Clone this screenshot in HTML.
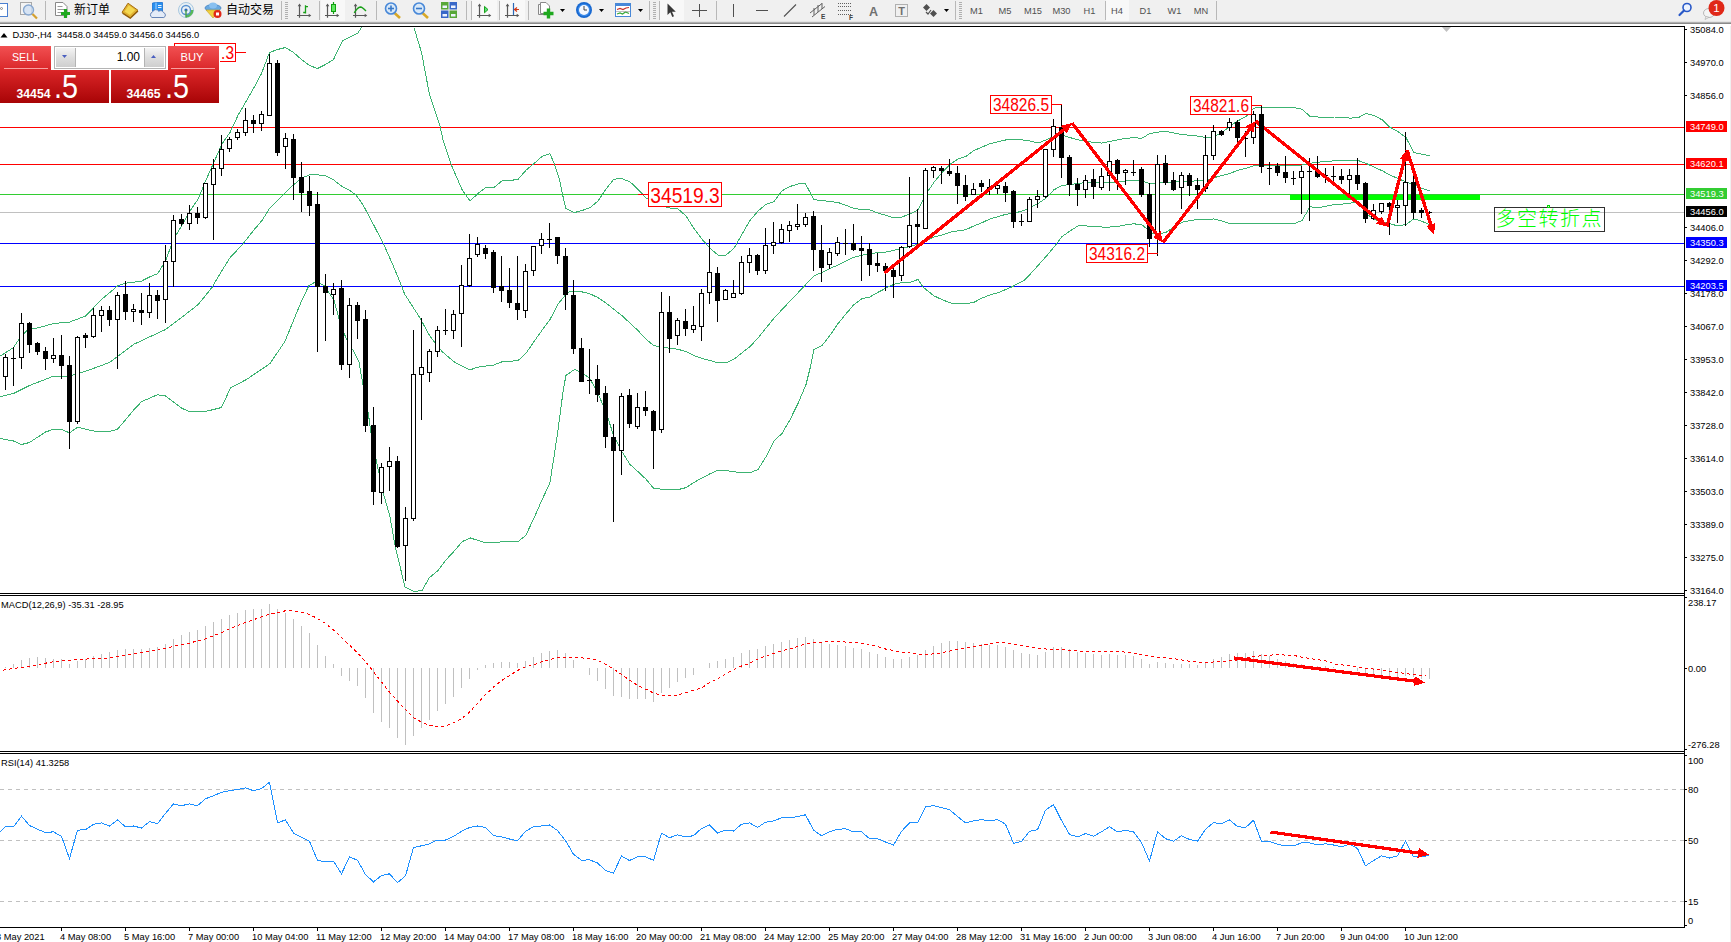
<!DOCTYPE html>
<html><head><meta charset="utf-8"><title>DJ30-,H4</title>
<style>
html,body{margin:0;padding:0;background:#fff;overflow:hidden}
body{width:1731px;height:942px}
svg{display:block;font-family:"Liberation Sans","Noto Sans CJK SC",sans-serif}
</style></head><body>
<svg width="1731" height="942" viewBox="0 0 1731 942">
<rect x="0" y="0" width="1731" height="942" fill="#fff"/>
<g shape-rendering="crispEdges">
<rect x="0" y="127" width="1684" height="1" fill="#ff0000"/>
<rect x="0" y="164" width="1684" height="1" fill="#ff0000"/>
<rect x="0" y="194" width="1684" height="1" fill="#32cd32"/>
<rect x="0" y="212" width="1684" height="1" fill="#c0c0c0"/>
<rect x="0" y="243" width="1684" height="1" fill="#0000ff"/>
<rect x="0" y="286" width="1684" height="1" fill="#0000ff"/>
<rect x="1290" y="195" width="190" height="5" fill="#00ff00"/>
<polyline points="0.5,356.0 13.5,347.5 21.5,335.5 29.5,328.5 37.5,328.0 53.5,323.5 69.5,322.1 85.5,316.1 101.5,299.5 117.5,286.0 125.5,283.2 141.5,281.1 150.5,276.5 157.9,273.5 166.0,259.5 173.9,238.5 181.9,225.5 190.0,210.9 198.1,199.2 205.9,180.1 214.0,162.1 222.0,144.0 230.1,132.3 238.0,115.4 246.0,101.5 253.5,88.5 261.5,73.5 269.5,52.5 277.5,49.5 285.5,47.5 293.5,52.5 301.5,59.5 309.5,65.5 317.5,68.5 325.5,64.5 333.5,59.5 342.5,40.9 357.8,33.2 361.5,27.5" fill="none" stroke="#3cb371" stroke-width="1"/>
<polyline points="413.9,27.5 421.5,52.3 429.2,93.1 440.0,126.2 443.2,140.5 451.3,164.9 461.9,189.3 470.0,201.0 478.0,193.5 485.9,187.5 494.0,187.5 502.0,180.8 509.9,180.5 518.0,179.4 526.0,170.2 534.1,163.5 541.9,156.5 550.0,153.7 554.3,163.9 559.5,179.8 562.8,195.7 565.9,208.5 574.0,212.7 582.1,210.5 589.9,207.8 598.0,201.0 605.9,189.3 613.9,179.1 622.0,178.7 630.1,181.9 637.9,189.3 646.0,197.8 653.5,202.5 661.5,206.0 670.0,208.0 678.0,208.9 685.9,215.9 694.0,228.5 702.0,239.2 709.9,248.2 718.0,255.0 726.0,255.0 734.0,248.2 741.9,234.4 750.0,220.5 758.0,211.0 765.9,204.5 774.0,201.5 782.0,190.8 789.9,186.5 798.0,184.0 805.5,183.8 809.8,191.9 814.1,199.8 821.9,200.4 830.0,201.5 838.1,202.5 845.9,205.3 854.0,208.5 862.1,209.5 869.9,209.9 878.0,213.1 886.1,215.3 893.9,218.0 902.0,217.0 910.1,213.8 917.9,209.9 926.0,194.0 934.0,182.3 941.9,172.8 950.0,164.3 958.0,159.0 965.9,156.5 973.9,150.5 989.8,143.8 1005.9,139.9 1021.9,139.9 1029.9,141.0 1038.0,143.1 1045.9,139.9 1053.9,136.1 1062.0,135.0 1069.8,137.5 1077.9,139.9 1086.0,141.0 1094.0,142.5 1101.9,143.1 1110.0,141.5 1118.0,139.9 1125.9,138.2 1134.0,137.8 1142.0,138.2 1149.9,133.5 1158.0,132.1 1166.0,131.5 1173.9,132.9 1181.9,134.5 1190.0,135.3 1197.9,136.1 1205.9,137.5 1214.0,136.8 1222.1,132.5 1229.9,126.1 1238.0,120.8 1246.1,116.5 1253.9,108.1 1262.1,107.0 1270.0,107.7 1278.0,107.5 1286.1,107.5 1294.0,107.7 1302.0,109.2 1310.1,116.5 1318.0,117.0 1326.0,117.0 1334.1,117.0 1341.9,117.2 1350.0,118.1 1358.1,117.7 1365.9,113.5 1374.0,115.5 1382.1,119.8 1389.9,127.2 1398.0,131.5 1406.1,137.8 1413.9,152.7 1422.0,154.2 1430.1,155.9" fill="none" stroke="#3cb371" stroke-width="1"/>
<polyline points="0.5,396.5 13.5,393.5 29.5,385.5 53.5,376.2 69.5,376.2 85.5,371.3 109.5,362.5 133.5,344.4 165.5,329.5 181.5,317.5 197.5,305.1 201.5,300.5 212.1,287.3 222.0,270.5 230.1,257.5 242.2,244.9 253.9,230.0 262.0,220.5 270.0,207.7 277.9,200.3 286.0,191.8 294.0,184.4 301.9,178.0 309.9,174.8 318.0,174.8 325.9,175.9 333.9,180.1 342.0,186.5 350.1,190.7 356.0,195.0 362.8,204.5 371.9,221.5 384.0,244.9 392.5,264.0 402.1,287.3 404.5,293.9 419.5,317.2 430.0,336.3 441.7,351.2 454.0,361.8 469.9,369.9 478.0,367.1 493.9,365.0 502.0,361.8 517.9,360.7 526.0,353.3 534.0,341.5 541.9,330.5 550.0,319.5 558.1,304.0 565.9,294.5 569.1,291.9 582.1,291.9 589.9,293.8 598.0,297.6 605.9,302.9 613.9,309.3 622.0,315.7 630.1,323.1 637.9,330.5 645.9,339.0 653.9,345.8 662.0,346.8 670.1,348.5 677.9,349.2 686.0,351.7 694.1,355.5 701.9,358.5 710.0,360.5 718.1,362.8 726.1,362.8 734.0,359.2 742.0,352.8 750.1,346.5 758.0,338.0 774.0,318.2 789.9,301.2 798.0,292.8 806.0,284.3 814.1,275.8 821.9,272.5 830.0,268.3 838.1,265.1 845.9,260.9 854.0,257.3 862.1,255.2 869.9,253.9 878.0,252.5 886.1,252.0 893.9,250.3 902.0,248.5 910.1,246.5 917.9,244.3 926.0,240.7 934.0,237.1 941.9,235.0 950.0,232.2 958.0,230.8 965.9,229.7 973.9,225.9 982.0,222.7 989.8,219.0 998.0,216.7 1005.9,214.3 1014.0,213.2 1021.9,211.1 1029.9,207.9 1038.0,203.5 1045.9,198.3 1053.9,189.8 1062.0,185.5 1069.8,184.5 1077.9,183.5 1086.0,182.5 1094.0,182.0 1101.9,182.0 1110.0,182.0 1118.0,182.0 1125.9,180.9 1134.0,180.3 1142.0,180.7 1149.9,183.9 1158.0,183.0 1166.0,182.5 1173.9,182.0 1181.9,181.3 1190.0,181.3 1197.9,180.7 1205.9,180.3 1214.0,177.7 1222.1,175.5 1229.9,173.5 1238.0,170.2 1246.1,168.3 1253.9,165.8 1262.1,165.0 1270.0,165.5 1294.0,165.5 1302.0,165.0 1310.1,163.3 1318.0,162.2 1326.0,161.5 1334.1,160.8 1341.9,160.8 1350.0,160.8 1358.1,160.5 1365.9,163.3 1374.0,167.1 1382.1,170.7 1389.9,175.0 1398.0,178.5 1406.1,182.0 1413.9,184.5 1422.0,188.4 1430.1,190.9" fill="none" stroke="#3cb371" stroke-width="1"/>
<polyline points="0.5,438.5 13.5,441.0 21.5,444.5 29.5,442.5 45.5,432.0 53.5,429.3 61.5,429.3 69.5,432.9 77.5,427.2 93.5,431.0 109.5,431.5 117.5,429.3 133.5,410.2 141.5,401.7 157.5,394.7 165.5,396.0 181.5,408.1 189.5,411.7 205.5,411.5 221.5,407.5 230.5,387.9 246.5,379.5 270.1,363.5 285.0,341.2 300.5,303.5 309.0,285.4 316.5,281.5 323.9,285.4 334.0,300.2 339.8,321.5 346.1,338.5 353.5,351.2 358.9,361.8 363.1,385.2 368.5,414.9 371.5,436.1 376.8,463.1 383.5,493.9 389.9,516.2 395.3,547.0 401.5,572.5 405.2,587.3 413.9,591.5 422.0,590.5 429.2,577.8 438.1,570.4 446.2,559.7 454.1,551.2 462.1,541.7 470.2,537.9 478.1,540.5 486.1,542.8 494.0,542.8 502.0,541.7 518.0,541.7 525.8,535.3 533.9,518.3 541.8,500.3 549.8,483.3 553.5,459.9 557.7,432.3 561.9,400.5 562.7,393.5 565.9,375.5 574.4,369.5 582.0,372.5 589.9,378.5 598.0,393.5 606.0,412.2 614.0,436.7 621.9,451.5 629.9,464.3 638.0,471.7 645.9,479.1 653.9,488.7 662.0,489.1 670.1,489.7 677.9,489.7 686.0,487.6 694.1,482.3 701.9,478.1 710.0,473.8 718.1,470.0 726.1,470.6 734.0,471.7 742.0,472.8 750.1,472.8 758.0,469.5 766.0,456.8 773.9,440.9 782.0,433.5 790.0,419.7 797.9,403.7 806.0,384.6 810.5,366.5 814.0,349.5 822.1,345.4 829.9,335.5 838.1,323.5 845.9,314.0 854.0,304.5 862.1,298.7 869.9,297.0 878.0,292.3 886.1,288.1 893.9,284.3 902.0,282.5 910.1,282.5 917.9,279.5 923.5,287.5 934.0,295.9 941.9,299.5 950.0,302.9 958.0,303.8 965.9,303.8 974.0,302.3 982.0,298.1 989.9,294.9 998.0,292.8 1010.5,287.5 1024.2,280.5 1032.7,271.5 1045.9,256.7 1053.9,247.2 1062.0,236.5 1069.8,231.2 1077.9,225.9 1086.0,225.9 1094.0,226.5 1101.9,227.0 1110.0,227.0 1118.0,226.5 1125.9,224.9 1134.0,223.8 1142.0,224.9 1147.3,229.1 1149.9,233.4 1158.0,234.4 1166.0,232.3 1173.9,227.0 1181.9,222.3 1190.0,220.5 1197.9,219.5 1205.9,219.5 1214.0,218.9 1222.1,221.0 1229.9,223.8 1238.0,223.2 1262.1,223.2 1286.1,223.2 1294.0,223.8 1302.0,220.5 1307.5,211.1 1310.1,206.8 1318.0,207.9 1326.0,206.2 1334.1,204.7 1341.9,204.1 1350.0,203.2 1358.1,201.9 1365.9,213.2 1374.0,219.5 1382.1,221.7 1389.9,223.8 1398.0,225.9 1406.1,224.5 1413.9,218.9 1422.0,221.3 1430.1,224.9" fill="none" stroke="#3cb371" stroke-width="1"/>
</g>
<g shape-rendering="crispEdges">
<rect x="5" y="354" width="1" height="36" fill="#000"/>
<rect x="3" y="357" width="5" height="20" fill="#000"/>
<rect x="4" y="358" width="3" height="18" fill="#fff"/>
<rect x="13" y="347" width="1" height="39" fill="#000"/>
<rect x="11" y="358" width="5" height="1" fill="#000"/>
<rect x="21" y="313" width="1" height="56" fill="#000"/>
<rect x="19" y="323" width="5" height="35" fill="#000"/>
<rect x="20" y="324" width="3" height="33" fill="#fff"/>
<rect x="29" y="322" width="1" height="31" fill="#000"/>
<rect x="27" y="323" width="5" height="22" fill="#000"/>
<rect x="37" y="342" width="1" height="13" fill="#000"/>
<rect x="35" y="343" width="5" height="9" fill="#000"/>
<rect x="45" y="347" width="1" height="23" fill="#000"/>
<rect x="43" y="351" width="5" height="8" fill="#000"/>
<rect x="53" y="338" width="1" height="25" fill="#000"/>
<rect x="51" y="355" width="5" height="4" fill="#000"/>
<rect x="52" y="356" width="3" height="2" fill="#fff"/>
<rect x="61" y="335" width="1" height="44" fill="#000"/>
<rect x="59" y="355" width="5" height="11" fill="#000"/>
<rect x="69" y="356" width="1" height="93" fill="#000"/>
<rect x="67" y="365" width="5" height="57" fill="#000"/>
<rect x="77" y="336" width="1" height="88" fill="#000"/>
<rect x="75" y="337" width="5" height="85" fill="#000"/>
<rect x="76" y="338" width="3" height="83" fill="#fff"/>
<rect x="85" y="333" width="1" height="15" fill="#000"/>
<rect x="83" y="335" width="5" height="3" fill="#000"/>
<rect x="93" y="308" width="1" height="30" fill="#000"/>
<rect x="91" y="315" width="5" height="22" fill="#000"/>
<rect x="92" y="316" width="3" height="20" fill="#fff"/>
<rect x="101" y="306" width="1" height="26" fill="#000"/>
<rect x="99" y="310" width="5" height="6" fill="#000"/>
<rect x="100" y="311" width="3" height="4" fill="#fff"/>
<rect x="109" y="306" width="1" height="20" fill="#000"/>
<rect x="107" y="310" width="5" height="10" fill="#000"/>
<rect x="117" y="292" width="1" height="77" fill="#000"/>
<rect x="115" y="295" width="5" height="25" fill="#000"/>
<rect x="116" y="296" width="3" height="23" fill="#fff"/>
<rect x="125" y="281" width="1" height="39" fill="#000"/>
<rect x="123" y="294" width="5" height="18" fill="#000"/>
<rect x="133" y="304" width="1" height="18" fill="#000"/>
<rect x="131" y="309" width="5" height="3" fill="#000"/>
<rect x="132" y="310" width="3" height="1" fill="#fff"/>
<rect x="141" y="293" width="1" height="32" fill="#000"/>
<rect x="139" y="310" width="5" height="3" fill="#000"/>
<rect x="149" y="283" width="1" height="35" fill="#000"/>
<rect x="147" y="295" width="5" height="18" fill="#000"/>
<rect x="148" y="296" width="3" height="16" fill="#fff"/>
<rect x="157" y="290" width="1" height="29" fill="#000"/>
<rect x="155" y="295" width="5" height="6" fill="#000"/>
<rect x="165" y="245" width="1" height="78" fill="#000"/>
<rect x="163" y="261" width="5" height="39" fill="#000"/>
<rect x="164" y="262" width="3" height="37" fill="#fff"/>
<rect x="173" y="215" width="1" height="72" fill="#000"/>
<rect x="171" y="220" width="5" height="42" fill="#000"/>
<rect x="172" y="221" width="3" height="40" fill="#fff"/>
<rect x="181" y="214" width="1" height="12" fill="#000"/>
<rect x="179" y="219" width="5" height="5" fill="#000"/>
<rect x="189" y="205" width="1" height="25" fill="#000"/>
<rect x="187" y="213" width="5" height="11" fill="#000"/>
<rect x="188" y="214" width="3" height="9" fill="#fff"/>
<rect x="197" y="207" width="1" height="17" fill="#000"/>
<rect x="195" y="213" width="5" height="5" fill="#000"/>
<rect x="205" y="183" width="1" height="36" fill="#000"/>
<rect x="203" y="183" width="5" height="35" fill="#000"/>
<rect x="204" y="184" width="3" height="33" fill="#fff"/>
<rect x="213" y="159" width="1" height="81" fill="#000"/>
<rect x="211" y="168" width="5" height="17" fill="#000"/>
<rect x="212" y="169" width="3" height="15" fill="#fff"/>
<rect x="221" y="135" width="1" height="41" fill="#000"/>
<rect x="219" y="149" width="5" height="20" fill="#000"/>
<rect x="220" y="150" width="3" height="18" fill="#fff"/>
<rect x="229" y="137" width="1" height="15" fill="#000"/>
<rect x="227" y="139" width="5" height="10" fill="#000"/>
<rect x="228" y="140" width="3" height="8" fill="#fff"/>
<rect x="237" y="129" width="1" height="11" fill="#000"/>
<rect x="235" y="132" width="5" height="6" fill="#000"/>
<rect x="236" y="133" width="3" height="4" fill="#fff"/>
<rect x="245" y="108" width="1" height="28" fill="#000"/>
<rect x="243" y="120" width="5" height="13" fill="#000"/>
<rect x="244" y="121" width="3" height="11" fill="#fff"/>
<rect x="253" y="115" width="1" height="18" fill="#000"/>
<rect x="251" y="120" width="5" height="4" fill="#000"/>
<rect x="261" y="111" width="1" height="20" fill="#000"/>
<rect x="259" y="114" width="5" height="10" fill="#000"/>
<rect x="260" y="115" width="3" height="8" fill="#fff"/>
<rect x="269" y="54" width="1" height="62" fill="#000"/>
<rect x="267" y="63" width="5" height="53" fill="#000"/>
<rect x="268" y="64" width="3" height="51" fill="#fff"/>
<rect x="277" y="60" width="1" height="96" fill="#000"/>
<rect x="275" y="63" width="5" height="90" fill="#000"/>
<rect x="285" y="133" width="1" height="36" fill="#000"/>
<rect x="283" y="138" width="5" height="9" fill="#000"/>
<rect x="284" y="139" width="3" height="7" fill="#fff"/>
<rect x="293" y="134" width="1" height="66" fill="#000"/>
<rect x="291" y="139" width="5" height="39" fill="#000"/>
<rect x="301" y="162" width="1" height="50" fill="#000"/>
<rect x="299" y="177" width="5" height="16" fill="#000"/>
<rect x="309" y="176" width="1" height="40" fill="#000"/>
<rect x="307" y="191" width="5" height="15" fill="#000"/>
<rect x="317" y="192" width="1" height="160" fill="#000"/>
<rect x="315" y="204" width="5" height="83" fill="#000"/>
<rect x="325" y="274" width="1" height="67" fill="#000"/>
<rect x="323" y="286" width="5" height="7" fill="#000"/>
<rect x="333" y="283" width="1" height="32" fill="#000"/>
<rect x="331" y="289" width="5" height="6" fill="#000"/>
<rect x="332" y="290" width="3" height="4" fill="#fff"/>
<rect x="341" y="280" width="1" height="90" fill="#000"/>
<rect x="339" y="288" width="5" height="77" fill="#000"/>
<rect x="349" y="298" width="1" height="80" fill="#000"/>
<rect x="347" y="305" width="5" height="60" fill="#000"/>
<rect x="348" y="306" width="3" height="58" fill="#fff"/>
<rect x="357" y="302" width="1" height="37" fill="#000"/>
<rect x="355" y="305" width="5" height="16" fill="#000"/>
<rect x="365" y="310" width="1" height="122" fill="#000"/>
<rect x="363" y="319" width="5" height="107" fill="#000"/>
<rect x="373" y="407" width="1" height="98" fill="#000"/>
<rect x="371" y="425" width="5" height="67" fill="#000"/>
<rect x="381" y="463" width="1" height="41" fill="#000"/>
<rect x="379" y="467" width="5" height="26" fill="#000"/>
<rect x="380" y="468" width="3" height="24" fill="#fff"/>
<rect x="389" y="447" width="1" height="44" fill="#000"/>
<rect x="387" y="461" width="5" height="6" fill="#000"/>
<rect x="388" y="462" width="3" height="4" fill="#fff"/>
<rect x="397" y="456" width="1" height="92" fill="#000"/>
<rect x="395" y="461" width="5" height="86" fill="#000"/>
<rect x="405" y="507" width="1" height="74" fill="#000"/>
<rect x="403" y="518" width="5" height="28" fill="#000"/>
<rect x="404" y="519" width="3" height="26" fill="#fff"/>
<rect x="413" y="330" width="1" height="191" fill="#000"/>
<rect x="411" y="374" width="5" height="145" fill="#000"/>
<rect x="412" y="375" width="3" height="143" fill="#fff"/>
<rect x="421" y="318" width="1" height="102" fill="#000"/>
<rect x="419" y="367" width="5" height="8" fill="#000"/>
<rect x="420" y="368" width="3" height="6" fill="#fff"/>
<rect x="429" y="349" width="1" height="33" fill="#000"/>
<rect x="427" y="351" width="5" height="22" fill="#000"/>
<rect x="428" y="352" width="3" height="20" fill="#fff"/>
<rect x="437" y="326" width="1" height="31" fill="#000"/>
<rect x="435" y="330" width="5" height="22" fill="#000"/>
<rect x="436" y="331" width="3" height="20" fill="#fff"/>
<rect x="445" y="309" width="1" height="26" fill="#000"/>
<rect x="443" y="330" width="5" height="1" fill="#000"/>
<rect x="453" y="310" width="1" height="29" fill="#000"/>
<rect x="451" y="314" width="5" height="17" fill="#000"/>
<rect x="452" y="315" width="3" height="15" fill="#fff"/>
<rect x="461" y="265" width="1" height="82" fill="#000"/>
<rect x="459" y="285" width="5" height="29" fill="#000"/>
<rect x="460" y="286" width="3" height="27" fill="#fff"/>
<rect x="469" y="234" width="1" height="53" fill="#000"/>
<rect x="467" y="258" width="5" height="28" fill="#000"/>
<rect x="468" y="259" width="3" height="26" fill="#fff"/>
<rect x="477" y="237" width="1" height="20" fill="#000"/>
<rect x="475" y="244" width="5" height="11" fill="#000"/>
<rect x="476" y="245" width="3" height="9" fill="#fff"/>
<rect x="485" y="245" width="1" height="14" fill="#000"/>
<rect x="483" y="248" width="5" height="6" fill="#000"/>
<rect x="493" y="250" width="1" height="43" fill="#000"/>
<rect x="491" y="252" width="5" height="36" fill="#000"/>
<rect x="501" y="256" width="1" height="46" fill="#000"/>
<rect x="499" y="286" width="5" height="5" fill="#000"/>
<rect x="509" y="268" width="1" height="40" fill="#000"/>
<rect x="507" y="290" width="5" height="13" fill="#000"/>
<rect x="517" y="256" width="1" height="64" fill="#000"/>
<rect x="515" y="303" width="5" height="7" fill="#000"/>
<rect x="525" y="264" width="1" height="54" fill="#000"/>
<rect x="523" y="271" width="5" height="40" fill="#000"/>
<rect x="524" y="272" width="3" height="38" fill="#fff"/>
<rect x="533" y="246" width="1" height="30" fill="#000"/>
<rect x="531" y="246" width="5" height="25" fill="#000"/>
<rect x="532" y="247" width="3" height="23" fill="#fff"/>
<rect x="541" y="233" width="1" height="21" fill="#000"/>
<rect x="539" y="239" width="5" height="7" fill="#000"/>
<rect x="540" y="240" width="3" height="5" fill="#fff"/>
<rect x="549" y="223" width="1" height="25" fill="#000"/>
<rect x="547" y="239" width="5" height="1" fill="#000"/>
<rect x="557" y="237" width="1" height="27" fill="#000"/>
<rect x="555" y="237" width="5" height="19" fill="#000"/>
<rect x="565" y="248" width="1" height="62" fill="#000"/>
<rect x="563" y="256" width="5" height="39" fill="#000"/>
<rect x="573" y="280" width="1" height="74" fill="#000"/>
<rect x="571" y="295" width="5" height="54" fill="#000"/>
<rect x="581" y="338" width="1" height="44" fill="#000"/>
<rect x="579" y="348" width="5" height="34" fill="#000"/>
<rect x="589" y="349" width="1" height="45" fill="#000"/>
<rect x="587" y="380" width="5" height="1" fill="#000"/>
<rect x="597" y="365" width="1" height="37" fill="#000"/>
<rect x="595" y="379" width="5" height="16" fill="#000"/>
<rect x="605" y="386" width="1" height="62" fill="#000"/>
<rect x="603" y="393" width="5" height="44" fill="#000"/>
<rect x="613" y="424" width="1" height="98" fill="#000"/>
<rect x="611" y="437" width="5" height="14" fill="#000"/>
<rect x="621" y="393" width="1" height="82" fill="#000"/>
<rect x="619" y="396" width="5" height="55" fill="#000"/>
<rect x="620" y="397" width="3" height="53" fill="#fff"/>
<rect x="629" y="389" width="1" height="39" fill="#000"/>
<rect x="627" y="395" width="5" height="29" fill="#000"/>
<rect x="637" y="393" width="1" height="36" fill="#000"/>
<rect x="635" y="407" width="5" height="20" fill="#000"/>
<rect x="636" y="408" width="3" height="18" fill="#fff"/>
<rect x="645" y="391" width="1" height="25" fill="#000"/>
<rect x="643" y="407" width="5" height="4" fill="#000"/>
<rect x="653" y="410" width="1" height="59" fill="#000"/>
<rect x="651" y="411" width="5" height="20" fill="#000"/>
<rect x="661" y="292" width="1" height="141" fill="#000"/>
<rect x="659" y="312" width="5" height="118" fill="#000"/>
<rect x="660" y="313" width="3" height="116" fill="#fff"/>
<rect x="669" y="296" width="1" height="57" fill="#000"/>
<rect x="667" y="312" width="5" height="27" fill="#000"/>
<rect x="677" y="318" width="1" height="27" fill="#000"/>
<rect x="675" y="320" width="5" height="16" fill="#000"/>
<rect x="676" y="321" width="3" height="14" fill="#fff"/>
<rect x="685" y="309" width="1" height="27" fill="#000"/>
<rect x="683" y="321" width="5" height="8" fill="#000"/>
<rect x="693" y="306" width="1" height="27" fill="#000"/>
<rect x="691" y="325" width="5" height="5" fill="#000"/>
<rect x="692" y="326" width="3" height="3" fill="#fff"/>
<rect x="701" y="289" width="1" height="52" fill="#000"/>
<rect x="699" y="293" width="5" height="34" fill="#000"/>
<rect x="700" y="294" width="3" height="32" fill="#fff"/>
<rect x="709" y="239" width="1" height="65" fill="#000"/>
<rect x="707" y="272" width="5" height="21" fill="#000"/>
<rect x="708" y="273" width="3" height="19" fill="#fff"/>
<rect x="717" y="267" width="1" height="55" fill="#000"/>
<rect x="715" y="273" width="5" height="28" fill="#000"/>
<rect x="725" y="289" width="1" height="11" fill="#000"/>
<rect x="723" y="290" width="5" height="10" fill="#000"/>
<rect x="724" y="291" width="3" height="8" fill="#fff"/>
<rect x="733" y="280" width="1" height="18" fill="#000"/>
<rect x="731" y="293" width="5" height="5" fill="#000"/>
<rect x="732" y="294" width="3" height="3" fill="#fff"/>
<rect x="741" y="256" width="1" height="39" fill="#000"/>
<rect x="739" y="262" width="5" height="32" fill="#000"/>
<rect x="740" y="263" width="3" height="30" fill="#fff"/>
<rect x="749" y="248" width="1" height="25" fill="#000"/>
<rect x="747" y="255" width="5" height="8" fill="#000"/>
<rect x="748" y="256" width="3" height="6" fill="#fff"/>
<rect x="757" y="254" width="1" height="21" fill="#000"/>
<rect x="755" y="255" width="5" height="16" fill="#000"/>
<rect x="765" y="228" width="1" height="46" fill="#000"/>
<rect x="763" y="245" width="5" height="26" fill="#000"/>
<rect x="764" y="246" width="3" height="24" fill="#fff"/>
<rect x="773" y="222" width="1" height="32" fill="#000"/>
<rect x="771" y="242" width="5" height="4" fill="#000"/>
<rect x="772" y="243" width="3" height="2" fill="#fff"/>
<rect x="781" y="224" width="1" height="20" fill="#000"/>
<rect x="779" y="229" width="5" height="14" fill="#000"/>
<rect x="780" y="230" width="3" height="12" fill="#fff"/>
<rect x="789" y="221" width="1" height="21" fill="#000"/>
<rect x="787" y="225" width="5" height="6" fill="#000"/>
<rect x="788" y="226" width="3" height="4" fill="#fff"/>
<rect x="797" y="204" width="1" height="26" fill="#000"/>
<rect x="795" y="224" width="5" height="3" fill="#000"/>
<rect x="796" y="225" width="3" height="1" fill="#fff"/>
<rect x="805" y="213" width="1" height="14" fill="#000"/>
<rect x="803" y="217" width="5" height="8" fill="#000"/>
<rect x="804" y="218" width="3" height="6" fill="#fff"/>
<rect x="813" y="211" width="1" height="60" fill="#000"/>
<rect x="811" y="216" width="5" height="34" fill="#000"/>
<rect x="821" y="225" width="1" height="57" fill="#000"/>
<rect x="819" y="250" width="5" height="18" fill="#000"/>
<rect x="829" y="248" width="1" height="21" fill="#000"/>
<rect x="827" y="252" width="5" height="13" fill="#000"/>
<rect x="828" y="253" width="3" height="11" fill="#fff"/>
<rect x="837" y="237" width="1" height="19" fill="#000"/>
<rect x="835" y="242" width="5" height="12" fill="#000"/>
<rect x="836" y="243" width="3" height="10" fill="#fff"/>
<rect x="845" y="229" width="1" height="26" fill="#000"/>
<rect x="843" y="243" width="5" height="1" fill="#000"/>
<rect x="853" y="224" width="1" height="27" fill="#000"/>
<rect x="851" y="243" width="5" height="7" fill="#000"/>
<rect x="861" y="236" width="1" height="45" fill="#000"/>
<rect x="859" y="248" width="5" height="3" fill="#000"/>
<rect x="869" y="243" width="1" height="33" fill="#000"/>
<rect x="867" y="249" width="5" height="16" fill="#000"/>
<rect x="877" y="253" width="1" height="19" fill="#000"/>
<rect x="875" y="263" width="5" height="3" fill="#000"/>
<rect x="885" y="263" width="1" height="28" fill="#000"/>
<rect x="883" y="266" width="5" height="5" fill="#000"/>
<rect x="893" y="266" width="1" height="32" fill="#000"/>
<rect x="891" y="270" width="5" height="7" fill="#000"/>
<rect x="901" y="246" width="1" height="35" fill="#000"/>
<rect x="899" y="247" width="5" height="29" fill="#000"/>
<rect x="900" y="248" width="3" height="27" fill="#fff"/>
<rect x="909" y="177" width="1" height="71" fill="#000"/>
<rect x="907" y="225" width="5" height="22" fill="#000"/>
<rect x="908" y="226" width="3" height="20" fill="#fff"/>
<rect x="917" y="209" width="1" height="35" fill="#000"/>
<rect x="915" y="224" width="5" height="3" fill="#000"/>
<rect x="925" y="168" width="1" height="61" fill="#000"/>
<rect x="923" y="170" width="5" height="59" fill="#000"/>
<rect x="924" y="171" width="3" height="57" fill="#fff"/>
<rect x="933" y="166" width="1" height="12" fill="#000"/>
<rect x="931" y="167" width="5" height="4" fill="#000"/>
<rect x="932" y="168" width="3" height="2" fill="#fff"/>
<rect x="941" y="166" width="1" height="18" fill="#000"/>
<rect x="939" y="168" width="5" height="3" fill="#000"/>
<rect x="949" y="159" width="1" height="17" fill="#000"/>
<rect x="947" y="171" width="5" height="3" fill="#000"/>
<rect x="957" y="166" width="1" height="38" fill="#000"/>
<rect x="955" y="173" width="5" height="13" fill="#000"/>
<rect x="965" y="175" width="1" height="26" fill="#000"/>
<rect x="963" y="185" width="5" height="12" fill="#000"/>
<rect x="973" y="183" width="1" height="12" fill="#000"/>
<rect x="971" y="189" width="5" height="6" fill="#000"/>
<rect x="972" y="190" width="3" height="4" fill="#fff"/>
<rect x="981" y="180" width="1" height="12" fill="#000"/>
<rect x="979" y="183" width="5" height="4" fill="#000"/>
<rect x="989" y="179" width="1" height="16" fill="#000"/>
<rect x="987" y="187" width="5" height="3" fill="#000"/>
<rect x="997" y="182" width="1" height="12" fill="#000"/>
<rect x="995" y="185" width="5" height="4" fill="#000"/>
<rect x="996" y="186" width="3" height="2" fill="#fff"/>
<rect x="1005" y="182" width="1" height="20" fill="#000"/>
<rect x="1003" y="186" width="5" height="7" fill="#000"/>
<rect x="1013" y="190" width="1" height="38" fill="#000"/>
<rect x="1011" y="191" width="5" height="31" fill="#000"/>
<rect x="1021" y="214" width="1" height="12" fill="#000"/>
<rect x="1019" y="221" width="5" height="1" fill="#000"/>
<rect x="1029" y="197" width="1" height="25" fill="#000"/>
<rect x="1027" y="199" width="5" height="23" fill="#000"/>
<rect x="1028" y="200" width="3" height="21" fill="#fff"/>
<rect x="1037" y="190" width="1" height="18" fill="#000"/>
<rect x="1035" y="196" width="5" height="4" fill="#000"/>
<rect x="1036" y="197" width="3" height="2" fill="#fff"/>
<rect x="1045" y="149" width="1" height="49" fill="#000"/>
<rect x="1043" y="149" width="5" height="48" fill="#000"/>
<rect x="1044" y="150" width="3" height="46" fill="#fff"/>
<rect x="1053" y="119" width="1" height="38" fill="#000"/>
<rect x="1051" y="126" width="5" height="24" fill="#000"/>
<rect x="1052" y="127" width="3" height="22" fill="#fff"/>
<rect x="1061" y="104" width="1" height="74" fill="#000"/>
<rect x="1059" y="127" width="5" height="31" fill="#000"/>
<rect x="1069" y="155" width="1" height="41" fill="#000"/>
<rect x="1067" y="157" width="5" height="28" fill="#000"/>
<rect x="1077" y="178" width="1" height="28" fill="#000"/>
<rect x="1075" y="184" width="5" height="6" fill="#000"/>
<rect x="1085" y="175" width="1" height="23" fill="#000"/>
<rect x="1083" y="180" width="5" height="10" fill="#000"/>
<rect x="1084" y="181" width="3" height="8" fill="#fff"/>
<rect x="1093" y="169" width="1" height="30" fill="#000"/>
<rect x="1091" y="179" width="5" height="8" fill="#000"/>
<rect x="1101" y="168" width="1" height="22" fill="#000"/>
<rect x="1099" y="176" width="5" height="12" fill="#000"/>
<rect x="1100" y="177" width="3" height="10" fill="#fff"/>
<rect x="1109" y="144" width="1" height="47" fill="#000"/>
<rect x="1107" y="161" width="5" height="15" fill="#000"/>
<rect x="1108" y="162" width="3" height="13" fill="#fff"/>
<rect x="1117" y="159" width="1" height="31" fill="#000"/>
<rect x="1115" y="160" width="5" height="14" fill="#000"/>
<rect x="1125" y="169" width="1" height="16" fill="#000"/>
<rect x="1123" y="170" width="5" height="3" fill="#000"/>
<rect x="1124" y="171" width="3" height="1" fill="#fff"/>
<rect x="1133" y="160" width="1" height="16" fill="#000"/>
<rect x="1131" y="172" width="5" height="1" fill="#000"/>
<rect x="1141" y="167" width="1" height="30" fill="#000"/>
<rect x="1139" y="169" width="5" height="26" fill="#000"/>
<rect x="1149" y="183" width="1" height="64" fill="#000"/>
<rect x="1147" y="194" width="5" height="45" fill="#000"/>
<rect x="1157" y="155" width="1" height="101" fill="#000"/>
<rect x="1155" y="164" width="5" height="75" fill="#000"/>
<rect x="1156" y="165" width="3" height="73" fill="#fff"/>
<rect x="1165" y="155" width="1" height="30" fill="#000"/>
<rect x="1163" y="163" width="5" height="20" fill="#000"/>
<rect x="1173" y="172" width="1" height="19" fill="#000"/>
<rect x="1171" y="180" width="5" height="10" fill="#000"/>
<rect x="1181" y="172" width="1" height="37" fill="#000"/>
<rect x="1179" y="175" width="5" height="13" fill="#000"/>
<rect x="1180" y="176" width="3" height="11" fill="#fff"/>
<rect x="1189" y="173" width="1" height="23" fill="#000"/>
<rect x="1187" y="175" width="5" height="11" fill="#000"/>
<rect x="1197" y="178" width="1" height="31" fill="#000"/>
<rect x="1195" y="185" width="5" height="5" fill="#000"/>
<rect x="1205" y="135" width="1" height="57" fill="#000"/>
<rect x="1203" y="155" width="5" height="34" fill="#000"/>
<rect x="1204" y="156" width="3" height="32" fill="#fff"/>
<rect x="1213" y="125" width="1" height="35" fill="#000"/>
<rect x="1211" y="131" width="5" height="25" fill="#000"/>
<rect x="1212" y="132" width="3" height="23" fill="#fff"/>
<rect x="1221" y="130" width="1" height="6" fill="#000"/>
<rect x="1219" y="131" width="5" height="4" fill="#000"/>
<rect x="1229" y="118" width="1" height="13" fill="#000"/>
<rect x="1227" y="122" width="5" height="6" fill="#000"/>
<rect x="1228" y="123" width="3" height="4" fill="#fff"/>
<rect x="1237" y="120" width="1" height="23" fill="#000"/>
<rect x="1235" y="122" width="5" height="16" fill="#000"/>
<rect x="1245" y="131" width="1" height="26" fill="#000"/>
<rect x="1243" y="138" width="5" height="1" fill="#000"/>
<rect x="1253" y="111" width="1" height="33" fill="#000"/>
<rect x="1251" y="114" width="5" height="24" fill="#000"/>
<rect x="1252" y="115" width="3" height="22" fill="#fff"/>
<rect x="1261" y="105" width="1" height="68" fill="#000"/>
<rect x="1259" y="114" width="5" height="53" fill="#000"/>
<rect x="1269" y="162" width="1" height="23" fill="#000"/>
<rect x="1267" y="168" width="5" height="1" fill="#000"/>
<rect x="1277" y="163" width="1" height="13" fill="#000"/>
<rect x="1275" y="166" width="5" height="7" fill="#000"/>
<rect x="1285" y="156" width="1" height="27" fill="#000"/>
<rect x="1283" y="172" width="5" height="6" fill="#000"/>
<rect x="1293" y="171" width="1" height="14" fill="#000"/>
<rect x="1291" y="178" width="5" height="1" fill="#000"/>
<rect x="1301" y="166" width="1" height="48" fill="#000"/>
<rect x="1299" y="171" width="5" height="7" fill="#000"/>
<rect x="1300" y="172" width="3" height="5" fill="#fff"/>
<rect x="1309" y="158" width="1" height="63" fill="#000"/>
<rect x="1307" y="171" width="5" height="1" fill="#000"/>
<rect x="1317" y="156" width="1" height="22" fill="#000"/>
<rect x="1315" y="171" width="5" height="6" fill="#000"/>
<rect x="1325" y="168" width="1" height="15" fill="#000"/>
<rect x="1323" y="175" width="5" height="1" fill="#000"/>
<rect x="1333" y="166" width="1" height="17" fill="#000"/>
<rect x="1331" y="176" width="5" height="1" fill="#000"/>
<rect x="1341" y="169" width="1" height="15" fill="#000"/>
<rect x="1339" y="176" width="5" height="4" fill="#000"/>
<rect x="1349" y="169" width="1" height="26" fill="#000"/>
<rect x="1347" y="175" width="5" height="5" fill="#000"/>
<rect x="1348" y="176" width="3" height="3" fill="#fff"/>
<rect x="1357" y="158" width="1" height="32" fill="#000"/>
<rect x="1355" y="175" width="5" height="9" fill="#000"/>
<rect x="1365" y="182" width="1" height="41" fill="#000"/>
<rect x="1363" y="183" width="5" height="36" fill="#000"/>
<rect x="1373" y="204" width="1" height="16" fill="#000"/>
<rect x="1371" y="210" width="5" height="9" fill="#000"/>
<rect x="1372" y="211" width="3" height="7" fill="#fff"/>
<rect x="1381" y="203" width="1" height="11" fill="#000"/>
<rect x="1379" y="203" width="5" height="9" fill="#000"/>
<rect x="1380" y="204" width="3" height="7" fill="#fff"/>
<rect x="1389" y="202" width="1" height="33" fill="#000"/>
<rect x="1387" y="203" width="5" height="4" fill="#000"/>
<rect x="1397" y="200" width="1" height="23" fill="#000"/>
<rect x="1395" y="205" width="5" height="3" fill="#000"/>
<rect x="1396" y="206" width="3" height="1" fill="#fff"/>
<rect x="1405" y="132" width="1" height="94" fill="#000"/>
<rect x="1403" y="182" width="5" height="24" fill="#000"/>
<rect x="1404" y="183" width="3" height="22" fill="#fff"/>
<rect x="1413" y="175" width="1" height="44" fill="#000"/>
<rect x="1411" y="182" width="5" height="31" fill="#000"/>
<rect x="1421" y="208" width="1" height="10" fill="#000"/>
<rect x="1419" y="210" width="5" height="3" fill="#000"/>
<rect x="1429" y="211" width="1" height="3" fill="#000"/>
<rect x="1428" y="212" width="4" height="1" fill="#000"/>
</g>
<g shape-rendering="crispEdges">
<line x1="1255.5" y1="121.0" x2="1384.7" y2="224.6" stroke="#f00" stroke-width="3.3"/>
<polygon points="1387.0,226.5 1375.8,223.7 1381.8,216.2" fill="#f00"/>
<rect x="1261" y="105" width="1" height="68" fill="#000"/>
<rect x="1259" y="114" width="5" height="53" fill="#000"/>
<line x1="884.5" y1="273.0" x2="1069.7" y2="124.9" stroke="#f00" stroke-width="3.3"/>
<polygon points="1072.0,123.0 1066.8,133.3 1060.8,125.8" fill="#f00"/>
<line x1="1072.0" y1="123.0" x2="1161.2" y2="240.1" stroke="#f00" stroke-width="3.3"/>
<polygon points="1163.0,242.5 1152.8,237.1 1160.5,231.2" fill="#f00"/>
<line x1="1163.0" y1="242.5" x2="1254.2" y2="123.4" stroke="#f00" stroke-width="3.3"/>
<polygon points="1256.0,121.0 1253.4,132.3 1245.8,126.4" fill="#f00"/>
<line x1="1387.0" y1="226.5" x2="1406.2" y2="152.9" stroke="#f00" stroke-width="3.3"/>
<polygon points="1407.0,150.0 1409.0,161.4 1399.7,158.9" fill="#f00"/>
<line x1="1407.0" y1="150.0" x2="1433.1" y2="231.6" stroke="#f00" stroke-width="3.3"/>
<polygon points="1434.0,234.5 1426.2,226.0 1435.4,223.0" fill="#f00"/>
</g>
<rect x="174.5" y="43.5" width="61" height="18" fill="#fff" stroke="#f00" stroke-width="1" shape-rendering="crispEdges"/>
<text x="234" y="58.8" font-size="17.5" fill="#f00" text-anchor="end" textLength="12.9" lengthAdjust="spacingAndGlyphs">.3</text>
<rect x="236" y="52" width="10" height="1" fill="#f00"/>
<rect x="990.5" y="95.5" width="61" height="18" fill="#fff" stroke="#f00" stroke-width="1" shape-rendering="crispEdges"/>
<text x="1021.0" y="110.8" font-size="17.5" fill="#f00" text-anchor="middle" textLength="56" lengthAdjust="spacingAndGlyphs">34826.5</text>
<rect x="1052" y="104" width="10" height="1" fill="#f00"/>
<rect x="1190.5" y="96.5" width="61" height="18" fill="#fff" stroke="#f00" stroke-width="1" shape-rendering="crispEdges"/>
<text x="1221.0" y="111.8" font-size="17.5" fill="#f00" text-anchor="middle" textLength="56" lengthAdjust="spacingAndGlyphs">34821.6</text>
<rect x="1252" y="105" width="10" height="1" fill="#f00"/>
<rect x="1086.5" y="244.5" width="61" height="18" fill="#fff" stroke="#f00" stroke-width="1" shape-rendering="crispEdges"/>
<text x="1117.0" y="259.8" font-size="17.5" fill="#f00" text-anchor="middle" textLength="56" lengthAdjust="spacingAndGlyphs">34316.2</text>
<rect x="1148" y="253" width="10" height="1" fill="#f00"/>
<rect x="638" y="194" width="10" height="1" fill="#f00"/>
<rect x="648.5" y="182.5" width="73" height="24" fill="#fff" stroke="#f00" stroke-width="1" shape-rendering="crispEdges"/>
<text x="685.0" y="203.0" font-size="22" fill="#f00" text-anchor="middle" textLength="69.5" lengthAdjust="spacingAndGlyphs">34519.3</text>
<rect x="1494.5" y="207.5" width="110" height="24" fill="none" stroke="#303030" stroke-width="1" shape-rendering="crispEdges"/>
<text x="1548.5" y="226.3" font-size="20" fill="#00ff00" text-anchor="middle" textLength="106" lengthAdjust="spacing" style="font-family:'Noto Sans CJK SC','WenQuanYi Zen Hei',sans-serif;font-weight:300">多空转折点</text>
<rect x="1547.5" y="205.5" width="2" height="2" fill="#fce" stroke="#0d0" stroke-width="1" shape-rendering="crispEdges"/>
<g shape-rendering="crispEdges">
<rect x="5" y="667" width="1" height="1" fill="#c0c0c0"/>
<rect x="13" y="664" width="1" height="4" fill="#c0c0c0"/>
<rect x="21" y="660" width="1" height="8" fill="#c0c0c0"/>
<rect x="29" y="658" width="1" height="10" fill="#c0c0c0"/>
<rect x="37" y="657" width="1" height="11" fill="#c0c0c0"/>
<rect x="45" y="658" width="1" height="10" fill="#c0c0c0"/>
<rect x="53" y="659" width="1" height="9" fill="#c0c0c0"/>
<rect x="61" y="659" width="1" height="9" fill="#c0c0c0"/>
<rect x="69" y="664" width="1" height="4" fill="#c0c0c0"/>
<rect x="77" y="661" width="1" height="7" fill="#c0c0c0"/>
<rect x="85" y="659" width="1" height="9" fill="#c0c0c0"/>
<rect x="93" y="656" width="1" height="12" fill="#c0c0c0"/>
<rect x="101" y="654" width="1" height="14" fill="#c0c0c0"/>
<rect x="109" y="652" width="1" height="16" fill="#c0c0c0"/>
<rect x="117" y="650" width="1" height="18" fill="#c0c0c0"/>
<rect x="125" y="649" width="1" height="19" fill="#c0c0c0"/>
<rect x="133" y="649" width="1" height="19" fill="#c0c0c0"/>
<rect x="141" y="649" width="1" height="19" fill="#c0c0c0"/>
<rect x="149" y="648" width="1" height="20" fill="#c0c0c0"/>
<rect x="157" y="647" width="1" height="21" fill="#c0c0c0"/>
<rect x="165" y="644" width="1" height="24" fill="#c0c0c0"/>
<rect x="173" y="639" width="1" height="29" fill="#c0c0c0"/>
<rect x="181" y="635" width="1" height="33" fill="#c0c0c0"/>
<rect x="189" y="632" width="1" height="36" fill="#c0c0c0"/>
<rect x="197" y="630" width="1" height="38" fill="#c0c0c0"/>
<rect x="205" y="626" width="1" height="42" fill="#c0c0c0"/>
<rect x="213" y="622" width="1" height="46" fill="#c0c0c0"/>
<rect x="221" y="619" width="1" height="49" fill="#c0c0c0"/>
<rect x="229" y="615" width="1" height="53" fill="#c0c0c0"/>
<rect x="237" y="613" width="1" height="55" fill="#c0c0c0"/>
<rect x="245" y="610" width="1" height="58" fill="#c0c0c0"/>
<rect x="253" y="609" width="1" height="59" fill="#c0c0c0"/>
<rect x="261" y="609" width="1" height="59" fill="#c0c0c0"/>
<rect x="269" y="604" width="1" height="64" fill="#c0c0c0"/>
<rect x="277" y="609" width="1" height="59" fill="#c0c0c0"/>
<rect x="285" y="613" width="1" height="55" fill="#c0c0c0"/>
<rect x="293" y="619" width="1" height="49" fill="#c0c0c0"/>
<rect x="301" y="626" width="1" height="42" fill="#c0c0c0"/>
<rect x="309" y="633" width="1" height="35" fill="#c0c0c0"/>
<rect x="317" y="645" width="1" height="23" fill="#c0c0c0"/>
<rect x="325" y="656" width="1" height="12" fill="#c0c0c0"/>
<rect x="333" y="664" width="1" height="4" fill="#c0c0c0"/>
<rect x="341" y="668" width="1" height="8" fill="#c0c0c0"/>
<rect x="349" y="668" width="1" height="13" fill="#c0c0c0"/>
<rect x="357" y="668" width="1" height="18" fill="#c0c0c0"/>
<rect x="365" y="668" width="1" height="30" fill="#c0c0c0"/>
<rect x="373" y="668" width="1" height="45" fill="#c0c0c0"/>
<rect x="381" y="668" width="1" height="54" fill="#c0c0c0"/>
<rect x="389" y="668" width="1" height="60" fill="#c0c0c0"/>
<rect x="397" y="668" width="1" height="70" fill="#c0c0c0"/>
<rect x="405" y="668" width="1" height="77" fill="#c0c0c0"/>
<rect x="413" y="668" width="1" height="68" fill="#c0c0c0"/>
<rect x="421" y="668" width="1" height="60" fill="#c0c0c0"/>
<rect x="429" y="668" width="1" height="52" fill="#c0c0c0"/>
<rect x="437" y="668" width="1" height="43" fill="#c0c0c0"/>
<rect x="445" y="668" width="1" height="36" fill="#c0c0c0"/>
<rect x="453" y="668" width="1" height="29" fill="#c0c0c0"/>
<rect x="461" y="668" width="1" height="20" fill="#c0c0c0"/>
<rect x="469" y="668" width="1" height="11" fill="#c0c0c0"/>
<rect x="477" y="668" width="1" height="2" fill="#c0c0c0"/>
<rect x="485" y="665" width="1" height="3" fill="#c0c0c0"/>
<rect x="493" y="663" width="1" height="5" fill="#c0c0c0"/>
<rect x="501" y="662" width="1" height="6" fill="#c0c0c0"/>
<rect x="509" y="662" width="1" height="6" fill="#c0c0c0"/>
<rect x="517" y="663" width="1" height="5" fill="#c0c0c0"/>
<rect x="525" y="661" width="1" height="7" fill="#c0c0c0"/>
<rect x="533" y="657" width="1" height="11" fill="#c0c0c0"/>
<rect x="541" y="653" width="1" height="15" fill="#c0c0c0"/>
<rect x="549" y="651" width="1" height="17" fill="#c0c0c0"/>
<rect x="557" y="650" width="1" height="18" fill="#c0c0c0"/>
<rect x="565" y="653" width="1" height="15" fill="#c0c0c0"/>
<rect x="573" y="660" width="1" height="8" fill="#c0c0c0"/>
<rect x="589" y="668" width="1" height="7" fill="#c0c0c0"/>
<rect x="597" y="668" width="1" height="13" fill="#c0c0c0"/>
<rect x="605" y="668" width="1" height="21" fill="#c0c0c0"/>
<rect x="613" y="668" width="1" height="28" fill="#c0c0c0"/>
<rect x="621" y="668" width="1" height="29" fill="#c0c0c0"/>
<rect x="629" y="668" width="1" height="31" fill="#c0c0c0"/>
<rect x="637" y="668" width="1" height="31" fill="#c0c0c0"/>
<rect x="645" y="668" width="1" height="31" fill="#c0c0c0"/>
<rect x="653" y="668" width="1" height="34" fill="#c0c0c0"/>
<rect x="661" y="668" width="1" height="25" fill="#c0c0c0"/>
<rect x="669" y="668" width="1" height="20" fill="#c0c0c0"/>
<rect x="677" y="668" width="1" height="14" fill="#c0c0c0"/>
<rect x="685" y="668" width="1" height="10" fill="#c0c0c0"/>
<rect x="693" y="668" width="1" height="7" fill="#c0c0c0"/>
<rect x="709" y="663" width="1" height="5" fill="#c0c0c0"/>
<rect x="717" y="661" width="1" height="7" fill="#c0c0c0"/>
<rect x="725" y="659" width="1" height="9" fill="#c0c0c0"/>
<rect x="733" y="657" width="1" height="11" fill="#c0c0c0"/>
<rect x="741" y="653" width="1" height="15" fill="#c0c0c0"/>
<rect x="749" y="650" width="1" height="18" fill="#c0c0c0"/>
<rect x="757" y="649" width="1" height="19" fill="#c0c0c0"/>
<rect x="765" y="646" width="1" height="22" fill="#c0c0c0"/>
<rect x="773" y="644" width="1" height="24" fill="#c0c0c0"/>
<rect x="781" y="642" width="1" height="26" fill="#c0c0c0"/>
<rect x="789" y="640" width="1" height="28" fill="#c0c0c0"/>
<rect x="797" y="638" width="1" height="30" fill="#c0c0c0"/>
<rect x="805" y="637" width="1" height="31" fill="#c0c0c0"/>
<rect x="813" y="639" width="1" height="29" fill="#c0c0c0"/>
<rect x="821" y="643" width="1" height="25" fill="#c0c0c0"/>
<rect x="829" y="644" width="1" height="24" fill="#c0c0c0"/>
<rect x="837" y="645" width="1" height="23" fill="#c0c0c0"/>
<rect x="845" y="646" width="1" height="22" fill="#c0c0c0"/>
<rect x="853" y="648" width="1" height="20" fill="#c0c0c0"/>
<rect x="861" y="649" width="1" height="19" fill="#c0c0c0"/>
<rect x="869" y="652" width="1" height="16" fill="#c0c0c0"/>
<rect x="877" y="654" width="1" height="14" fill="#c0c0c0"/>
<rect x="885" y="657" width="1" height="11" fill="#c0c0c0"/>
<rect x="893" y="659" width="1" height="9" fill="#c0c0c0"/>
<rect x="901" y="659" width="1" height="9" fill="#c0c0c0"/>
<rect x="909" y="657" width="1" height="11" fill="#c0c0c0"/>
<rect x="917" y="655" width="1" height="13" fill="#c0c0c0"/>
<rect x="925" y="650" width="1" height="18" fill="#c0c0c0"/>
<rect x="933" y="646" width="1" height="22" fill="#c0c0c0"/>
<rect x="941" y="643" width="1" height="25" fill="#c0c0c0"/>
<rect x="949" y="641" width="1" height="27" fill="#c0c0c0"/>
<rect x="957" y="641" width="1" height="27" fill="#c0c0c0"/>
<rect x="965" y="642" width="1" height="26" fill="#c0c0c0"/>
<rect x="973" y="643" width="1" height="25" fill="#c0c0c0"/>
<rect x="981" y="644" width="1" height="24" fill="#c0c0c0"/>
<rect x="989" y="645" width="1" height="23" fill="#c0c0c0"/>
<rect x="997" y="645" width="1" height="23" fill="#c0c0c0"/>
<rect x="1005" y="647" width="1" height="21" fill="#c0c0c0"/>
<rect x="1013" y="650" width="1" height="18" fill="#c0c0c0"/>
<rect x="1021" y="653" width="1" height="15" fill="#c0c0c0"/>
<rect x="1029" y="654" width="1" height="14" fill="#c0c0c0"/>
<rect x="1037" y="655" width="1" height="13" fill="#c0c0c0"/>
<rect x="1045" y="652" width="1" height="16" fill="#c0c0c0"/>
<rect x="1053" y="647" width="1" height="21" fill="#c0c0c0"/>
<rect x="1061" y="647" width="1" height="21" fill="#c0c0c0"/>
<rect x="1069" y="649" width="1" height="19" fill="#c0c0c0"/>
<rect x="1077" y="652" width="1" height="16" fill="#c0c0c0"/>
<rect x="1085" y="653" width="1" height="15" fill="#c0c0c0"/>
<rect x="1093" y="654" width="1" height="14" fill="#c0c0c0"/>
<rect x="1101" y="655" width="1" height="13" fill="#c0c0c0"/>
<rect x="1109" y="654" width="1" height="14" fill="#c0c0c0"/>
<rect x="1117" y="655" width="1" height="13" fill="#c0c0c0"/>
<rect x="1125" y="655" width="1" height="13" fill="#c0c0c0"/>
<rect x="1133" y="656" width="1" height="12" fill="#c0c0c0"/>
<rect x="1141" y="659" width="1" height="9" fill="#c0c0c0"/>
<rect x="1149" y="664" width="1" height="4" fill="#c0c0c0"/>
<rect x="1157" y="662" width="1" height="6" fill="#c0c0c0"/>
<rect x="1165" y="663" width="1" height="5" fill="#c0c0c0"/>
<rect x="1173" y="664" width="1" height="4" fill="#c0c0c0"/>
<rect x="1181" y="664" width="1" height="4" fill="#c0c0c0"/>
<rect x="1189" y="664" width="1" height="4" fill="#c0c0c0"/>
<rect x="1197" y="665" width="1" height="3" fill="#c0c0c0"/>
<rect x="1205" y="663" width="1" height="5" fill="#c0c0c0"/>
<rect x="1213" y="659" width="1" height="9" fill="#c0c0c0"/>
<rect x="1221" y="657" width="1" height="11" fill="#c0c0c0"/>
<rect x="1229" y="654" width="1" height="14" fill="#c0c0c0"/>
<rect x="1237" y="653" width="1" height="15" fill="#c0c0c0"/>
<rect x="1245" y="653" width="1" height="15" fill="#c0c0c0"/>
<rect x="1253" y="651" width="1" height="17" fill="#c0c0c0"/>
<rect x="1261" y="654" width="1" height="14" fill="#c0c0c0"/>
<rect x="1269" y="656" width="1" height="12" fill="#c0c0c0"/>
<rect x="1277" y="659" width="1" height="9" fill="#c0c0c0"/>
<rect x="1285" y="661" width="1" height="7" fill="#c0c0c0"/>
<rect x="1293" y="663" width="1" height="5" fill="#c0c0c0"/>
<rect x="1301" y="664" width="1" height="4" fill="#c0c0c0"/>
<rect x="1309" y="666" width="1" height="2" fill="#c0c0c0"/>
<rect x="1317" y="666" width="1" height="2" fill="#c0c0c0"/>
<rect x="1325" y="666" width="1" height="2" fill="#c0c0c0"/>
<rect x="1333" y="667" width="1" height="1" fill="#c0c0c0"/>
<rect x="1357" y="668" width="1" height="3" fill="#c0c0c0"/>
<rect x="1365" y="668" width="1" height="6" fill="#c0c0c0"/>
<rect x="1373" y="668" width="1" height="7" fill="#c0c0c0"/>
<rect x="1381" y="668" width="1" height="7" fill="#c0c0c0"/>
<rect x="1389" y="668" width="1" height="9" fill="#c0c0c0"/>
<rect x="1397" y="668" width="1" height="10" fill="#c0c0c0"/>
<rect x="1405" y="668" width="1" height="8" fill="#c0c0c0"/>
<rect x="1413" y="668" width="1" height="9" fill="#c0c0c0"/>
<rect x="1421" y="668" width="1" height="11" fill="#c0c0c0"/>
<rect x="1429" y="668" width="1" height="11" fill="#c0c0c0"/>
<polyline points="3.0,670.1 29.5,666.2 53.5,661.7 85.5,659.1 109.5,657.9 133.5,654.0 157.5,650.2 173.5,646.4 189.5,643.1 205.5,638.8 221.5,632.5 237.5,625.5 253.5,619.7 269.5,614.1 285.5,610.8 293.5,610.8 301.5,612.1 309.5,614.5 317.5,618.5 325.5,623.5 333.5,629.9 341.5,637.5 349.5,645.2 357.5,652.8 365.5,661.7 373.5,671.8 381.5,682.0 389.5,692.2 397.5,701.1 405.5,709.5 413.5,717.5 421.5,722.2 429.5,725.2 437.5,727.0 445.5,726.0 453.5,722.7 461.5,718.9 469.5,712.0 477.5,703.5 485.5,694.7 493.5,687.1 501.5,680.7 509.5,675.7 517.5,670.5 525.5,666.8 533.5,665.0 541.5,661.7 549.5,659.6 557.5,657.9 565.5,657.1 573.5,657.1 581.5,657.9 589.5,658.4 597.5,660.4 605.5,664.2 613.5,668.8 621.5,674.4 629.5,680.0 637.5,685.3 645.5,689.1 653.5,692.9 661.5,695.5 669.5,695.7 677.5,695.2 685.5,692.7 693.5,690.4 701.5,687.9 709.5,682.8 717.5,678.7 725.5,673.9 733.5,669.8 741.5,666.0 749.5,663.5 757.5,659.1 765.5,656.1 773.5,653.5 781.5,650.7 789.5,649.0 797.5,646.4 805.5,643.9 813.5,642.6 821.5,642.1 829.5,641.3 837.5,641.3 845.5,642.1 853.5,642.1 869.5,644.4 885.5,649.0 901.5,652.0 917.5,654.0 925.5,654.8 941.5,652.8 957.5,649.5 973.5,646.4 989.5,643.9 997.5,642.6 1005.5,642.6 1013.5,644.4 1029.5,646.9 1045.5,649.0 1061.5,649.7 1077.5,651.0 1101.5,651.0 1117.5,651.5 1133.5,652.8 1141.5,654.8 1157.5,657.1 1173.5,658.6 1189.5,661.2 1205.5,662.9 1213.5,662.0 1221.5,661.5 1232.5,660.8 1250.5,657.3 1262.0,655.5 1278.0,654.7 1294.1,655.5 1304.5,657.7 1325.3,660.8 1333.9,663.8 1346.1,665.5 1366.0,668.1 1382.0,670.2 1398.1,672.5 1414.0,674.7 1425.8,675.9" fill="none" stroke="#ff0000" stroke-width="1" stroke-dasharray="3 3"/>
<line x1="1234.0" y1="658.0" x2="1422.0" y2="682.1" stroke="#f00" stroke-width="3.2"/>
<polygon points="1425.0,682.5 1413.5,686.1 1414.7,676.1" fill="#f00"/>
<line x1="0" y1="789.5" x2="1684" y2="789.5" stroke="#c0c0c0" stroke-width="1" stroke-dasharray="4 4"/>
<line x1="0" y1="840.5" x2="1684" y2="840.5" stroke="#c0c0c0" stroke-width="1" stroke-dasharray="4 4"/>
<line x1="0" y1="901.5" x2="1684" y2="901.5" stroke="#c0c0c0" stroke-width="1" stroke-dasharray="4 4"/>
<polyline points="0.5,831.8 5.5,826.8 13.5,826.8 21.5,816.1 29.5,825.5 37.5,829.3 45.5,832.6 53.5,831.8 61.5,836.4 69.5,858.5 77.5,830.1 85.5,829.8 93.5,824.2 101.5,822.9 109.5,826.0 117.5,819.9 125.5,826.8 133.5,826.0 141.5,828.0 149.5,821.7 157.5,823.7 165.5,813.3 173.5,803.9 181.5,805.7 189.5,803.9 197.5,805.7 205.5,798.8 213.5,795.7 221.5,792.4 229.5,790.7 237.5,789.4 245.5,787.9 253.5,790.7 261.5,788.6 269.5,782.3 277.5,822.9 285.5,819.9 293.5,833.1 301.5,837.4 309.5,841.2 317.5,860.5 325.5,861.8 333.5,861.1 341.5,873.8 349.5,856.8 357.5,860.3 365.5,874.5 373.5,881.9 381.5,875.5 389.5,873.8 397.5,882.7 405.5,875.8 413.5,847.6 421.5,845.8 429.5,843.8 437.5,840.0 445.5,840.0 453.5,836.4 461.5,831.3 469.5,827.5 477.5,826.0 485.5,827.5 493.5,835.7 501.5,836.9 509.5,839.0 517.5,840.7 525.5,831.3 533.5,826.8 541.5,826.0 549.5,825.0 557.5,830.5 565.5,840.7 573.5,854.2 581.5,860.3 589.5,859.8 597.5,862.9 605.5,870.5 613.5,873.0 621.5,856.0 629.5,860.5 637.5,856.8 645.5,856.8 653.5,860.3 661.5,833.1 669.5,837.7 677.5,834.9 685.5,836.9 693.5,835.7 701.5,828.5 709.5,825.0 717.5,833.1 725.5,830.1 733.5,831.1 741.5,824.2 749.5,822.9 757.5,827.5 765.5,822.2 773.5,820.9 781.5,817.9 789.5,817.9 797.5,816.5 805.5,814.8 813.5,830.1 821.5,835.7 829.5,831.8 837.5,829.3 845.5,828.8 853.5,831.8 861.5,831.8 869.5,838.7 877.5,838.7 885.5,842.0 893.5,845.1 901.5,831.3 909.5,822.9 917.5,822.9 925.5,806.9 933.5,805.7 941.5,807.7 949.5,809.7 957.5,816.5 965.5,822.9 973.5,820.9 981.5,819.6 989.5,820.9 997.5,819.6 1005.5,824.2 1013.5,843.3 1021.5,841.5 1029.5,831.3 1037.5,829.8 1045.5,810.2 1053.5,804.6 1061.5,820.4 1069.5,834.4 1077.5,836.9 1085.5,833.6 1093.5,836.2 1101.5,831.8 1109.5,826.8 1117.5,831.8 1125.5,830.5 1133.5,831.8 1141.5,842.5 1149.5,861.1 1157.5,831.8 1165.5,838.7 1173.5,841.2 1181.5,835.7 1189.5,839.5 1197.5,841.2 1205.5,829.4 1213.5,822.5 1221.5,823.9 1229.5,819.9 1237.5,826.5 1245.5,827.7 1253.5,820.2 1261.5,841.5 1269.5,841.5 1277.5,844.2 1285.5,845.9 1293.5,845.9 1301.5,842.9 1309.5,842.9 1317.5,845.0 1325.5,843.8 1333.5,845.0 1341.5,846.8 1349.5,844.2 1357.5,848.5 1365.5,865.8 1373.5,860.6 1381.5,855.8 1389.5,858.0 1397.5,855.8 1405.5,841.0 1413.5,856.6 1421.5,856.6 1429.5,855.5" fill="none" stroke="#1e90ff" stroke-width="1"/>
<line x1="1270.5" y1="832.0" x2="1426.0" y2="854.1" stroke="#f00" stroke-width="3.2"/>
<polygon points="1429.0,854.5 1417.4,857.9 1418.8,848.0" fill="#f00"/>
</g>
<g shape-rendering="crispEdges">
<rect x="1685" y="22" width="46" height="920" fill="#fff"/>
<rect x="0" y="927" width="1685" height="15" fill="#fff"/>
<rect x="0" y="26" width="1685" height="1" fill="#000"/>
<rect x="1684" y="26" width="1" height="902" fill="#000"/>
<rect x="0" y="593" width="1685" height="1" fill="#000"/>
<rect x="0" y="595" width="1685" height="1" fill="#000"/>
<rect x="0" y="751" width="1685" height="1" fill="#000"/>
<rect x="0" y="753" width="1685" height="1" fill="#000"/>
<rect x="0" y="927" width="1685" height="1" fill="#000"/>
<rect x="0" y="594" width="1684" height="1" fill="#fff"/>
<rect x="0" y="752" width="1684" height="1" fill="#fff"/>
<rect x="1730" y="24" width="1" height="918" fill="#f0f0f0"/>
<polygon points="1442,27 1451,27 1446.5,32" fill="#c0c0c0" shape-rendering="auto"/>
<rect x="1685" y="29" width="2" height="1" fill="#000"/>
<rect x="1685" y="62" width="2" height="1" fill="#000"/>
<rect x="1685" y="95" width="2" height="1" fill="#000"/>
<rect x="1685" y="227" width="2" height="1" fill="#000"/>
<rect x="1685" y="260" width="2" height="1" fill="#000"/>
<rect x="1685" y="293" width="2" height="1" fill="#000"/>
<rect x="1685" y="326" width="2" height="1" fill="#000"/>
<rect x="1685" y="359" width="2" height="1" fill="#000"/>
<rect x="1685" y="392" width="2" height="1" fill="#000"/>
<rect x="1685" y="425" width="2" height="1" fill="#000"/>
<rect x="1685" y="458" width="2" height="1" fill="#000"/>
<rect x="1685" y="491" width="2" height="1" fill="#000"/>
<rect x="1685" y="524" width="2" height="1" fill="#000"/>
<rect x="1685" y="557" width="2" height="1" fill="#000"/>
<rect x="1685" y="590" width="2" height="1" fill="#000"/>
</g>
<text transform="translate(1690,32.8) scale(0.96,1)" font-size="9.7" fill="#000" text-anchor="start">35084.0</text>
<text transform="translate(1690,65.8) scale(0.96,1)" font-size="9.7" fill="#000" text-anchor="start">34970.0</text>
<text transform="translate(1690,98.8) scale(0.96,1)" font-size="9.7" fill="#000" text-anchor="start">34856.0</text>
<text transform="translate(1690,230.8) scale(0.96,1)" font-size="9.7" fill="#000" text-anchor="start">34406.0</text>
<text transform="translate(1690,263.8) scale(0.96,1)" font-size="9.7" fill="#000" text-anchor="start">34292.0</text>
<text transform="translate(1690,296.8) scale(0.96,1)" font-size="9.7" fill="#000" text-anchor="start">34178.0</text>
<text transform="translate(1690,329.8) scale(0.96,1)" font-size="9.7" fill="#000" text-anchor="start">34067.0</text>
<text transform="translate(1690,362.8) scale(0.96,1)" font-size="9.7" fill="#000" text-anchor="start">33953.0</text>
<text transform="translate(1690,395.8) scale(0.96,1)" font-size="9.7" fill="#000" text-anchor="start">33842.0</text>
<text transform="translate(1690,428.8) scale(0.96,1)" font-size="9.7" fill="#000" text-anchor="start">33728.0</text>
<text transform="translate(1690,461.8) scale(0.96,1)" font-size="9.7" fill="#000" text-anchor="start">33614.0</text>
<text transform="translate(1690,494.8) scale(0.96,1)" font-size="9.7" fill="#000" text-anchor="start">33503.0</text>
<text transform="translate(1690,527.8) scale(0.96,1)" font-size="9.7" fill="#000" text-anchor="start">33389.0</text>
<text transform="translate(1690,560.8) scale(0.96,1)" font-size="9.7" fill="#000" text-anchor="start">33275.0</text>
<text transform="translate(1690,593.8) scale(0.96,1)" font-size="9.7" fill="#000" text-anchor="start">33164.0</text>
<rect x="1686" y="121" width="41" height="11" fill="#ff0000" shape-rendering="crispEdges"/>
<text transform="translate(1690,129.9) scale(0.96,1)" font-size="9.7" fill="#fff" text-anchor="start">34749.0</text>
<rect x="1686" y="158" width="41" height="11" fill="#ff0000" shape-rendering="crispEdges"/>
<text transform="translate(1690,166.9) scale(0.96,1)" font-size="9.7" fill="#fff" text-anchor="start">34620.1</text>
<rect x="1686" y="188" width="41" height="11" fill="#32cd32" shape-rendering="crispEdges"/>
<text transform="translate(1690,196.9) scale(0.96,1)" font-size="9.7" fill="#fff" text-anchor="start">34519.3</text>
<rect x="1686" y="206" width="41" height="11" fill="#000000" shape-rendering="crispEdges"/>
<text transform="translate(1690,214.9) scale(0.96,1)" font-size="9.7" fill="#fff" text-anchor="start">34456.0</text>
<rect x="1686" y="237" width="41" height="11" fill="#0000ff" shape-rendering="crispEdges"/>
<text transform="translate(1690,245.9) scale(0.96,1)" font-size="9.7" fill="#fff" text-anchor="start">34350.3</text>
<rect x="1686" y="280" width="41" height="11" fill="#0000ff" shape-rendering="crispEdges"/>
<text transform="translate(1690,288.9) scale(0.96,1)" font-size="9.7" fill="#fff" text-anchor="start">34203.5</text>
<text transform="translate(1688,605.8) scale(0.96,1)" font-size="9.7" fill="#000" text-anchor="start">238.17</text>
<text transform="translate(1688,671.8) scale(0.96,1)" font-size="9.7" fill="#000" text-anchor="start">0.00</text>
<text transform="translate(1688,747.8) scale(0.96,1)" font-size="9.7" fill="#000" text-anchor="start">-276.28</text>
<g shape-rendering="crispEdges">
<rect x="1685" y="597" width="2" height="1" fill="#000"/>
<rect x="1685" y="668" width="2" height="1" fill="#000"/>
<rect x="1685" y="749" width="2" height="1" fill="#000"/>
<rect x="1685" y="755" width="2" height="1" fill="#000"/>
<rect x="1685" y="789" width="2" height="1" fill="#000"/>
<rect x="1685" y="840" width="2" height="1" fill="#000"/>
<rect x="1685" y="901" width="2" height="1" fill="#000"/>
<rect x="1685" y="925" width="2" height="1" fill="#000"/>
</g>
<text transform="translate(1688,763.8) scale(0.96,1)" font-size="9.7" fill="#000" text-anchor="start">100</text>
<text transform="translate(1688,792.8) scale(0.96,1)" font-size="9.7" fill="#000" text-anchor="start">80</text>
<text transform="translate(1688,843.8) scale(0.96,1)" font-size="9.7" fill="#000" text-anchor="start">50</text>
<text transform="translate(1688,904.8) scale(0.96,1)" font-size="9.7" fill="#000" text-anchor="start">15</text>
<text transform="translate(1688,923.8) scale(0.96,1)" font-size="9.7" fill="#000" text-anchor="start">0</text>
<text transform="translate(1,607.8) scale(0.96,1)" font-size="9.7" fill="#000" text-anchor="start">MACD(12,26,9) -35.31 -28.95</text>
<text transform="translate(1,765.8) scale(0.96,1)" font-size="9.7" fill="#000" text-anchor="start">RSI(14) 41.3258</text>
<g shape-rendering="crispEdges">
<rect x="-3" y="928" width="1" height="3" fill="#000"/>
<rect x="61" y="928" width="1" height="3" fill="#000"/>
<rect x="125" y="928" width="1" height="3" fill="#000"/>
<rect x="189" y="928" width="1" height="3" fill="#000"/>
<rect x="253" y="928" width="1" height="3" fill="#000"/>
<rect x="317" y="928" width="1" height="3" fill="#000"/>
<rect x="381" y="928" width="1" height="3" fill="#000"/>
<rect x="445" y="928" width="1" height="3" fill="#000"/>
<rect x="509" y="928" width="1" height="3" fill="#000"/>
<rect x="573" y="928" width="1" height="3" fill="#000"/>
<rect x="637" y="928" width="1" height="3" fill="#000"/>
<rect x="701" y="928" width="1" height="3" fill="#000"/>
<rect x="765" y="928" width="1" height="3" fill="#000"/>
<rect x="829" y="928" width="1" height="3" fill="#000"/>
<rect x="893" y="928" width="1" height="3" fill="#000"/>
<rect x="957" y="928" width="1" height="3" fill="#000"/>
<rect x="1021" y="928" width="1" height="3" fill="#000"/>
<rect x="1085" y="928" width="1" height="3" fill="#000"/>
<rect x="1149" y="928" width="1" height="3" fill="#000"/>
<rect x="1213" y="928" width="1" height="3" fill="#000"/>
<rect x="1277" y="928" width="1" height="3" fill="#000"/>
<rect x="1341" y="928" width="1" height="3" fill="#000"/>
<rect x="1405" y="928" width="1" height="3" fill="#000"/>
</g>
<text transform="translate(-4,940) scale(0.96,1)" font-size="9.7" fill="#000" text-anchor="start">3 May 2021</text>
<text transform="translate(60,940) scale(0.96,1)" font-size="9.7" fill="#000" text-anchor="start">4 May 08:00</text>
<text transform="translate(124,940) scale(0.96,1)" font-size="9.7" fill="#000" text-anchor="start">5 May 16:00</text>
<text transform="translate(188,940) scale(0.96,1)" font-size="9.7" fill="#000" text-anchor="start">7 May 00:00</text>
<text transform="translate(252,940) scale(0.96,1)" font-size="9.7" fill="#000" text-anchor="start">10 May 04:00</text>
<text transform="translate(316,940) scale(0.96,1)" font-size="9.7" fill="#000" text-anchor="start">11 May 12:00</text>
<text transform="translate(380,940) scale(0.96,1)" font-size="9.7" fill="#000" text-anchor="start">12 May 20:00</text>
<text transform="translate(444,940) scale(0.96,1)" font-size="9.7" fill="#000" text-anchor="start">14 May 04:00</text>
<text transform="translate(508,940) scale(0.96,1)" font-size="9.7" fill="#000" text-anchor="start">17 May 08:00</text>
<text transform="translate(572,940) scale(0.96,1)" font-size="9.7" fill="#000" text-anchor="start">18 May 16:00</text>
<text transform="translate(636,940) scale(0.96,1)" font-size="9.7" fill="#000" text-anchor="start">20 May 00:00</text>
<text transform="translate(700,940) scale(0.96,1)" font-size="9.7" fill="#000" text-anchor="start">21 May 08:00</text>
<text transform="translate(764,940) scale(0.96,1)" font-size="9.7" fill="#000" text-anchor="start">24 May 12:00</text>
<text transform="translate(828,940) scale(0.96,1)" font-size="9.7" fill="#000" text-anchor="start">25 May 20:00</text>
<text transform="translate(892,940) scale(0.96,1)" font-size="9.7" fill="#000" text-anchor="start">27 May 04:00</text>
<text transform="translate(956,940) scale(0.96,1)" font-size="9.7" fill="#000" text-anchor="start">28 May 12:00</text>
<text transform="translate(1020,940) scale(0.96,1)" font-size="9.7" fill="#000" text-anchor="start">31 May 16:00</text>
<text transform="translate(1084,940) scale(0.96,1)" font-size="9.7" fill="#000" text-anchor="start">2 Jun 00:00</text>
<text transform="translate(1148,940) scale(0.96,1)" font-size="9.7" fill="#000" text-anchor="start">3 Jun 08:00</text>
<text transform="translate(1212,940) scale(0.96,1)" font-size="9.7" fill="#000" text-anchor="start">4 Jun 16:00</text>
<text transform="translate(1276,940) scale(0.96,1)" font-size="9.7" fill="#000" text-anchor="start">7 Jun 20:00</text>
<text transform="translate(1340,940) scale(0.96,1)" font-size="9.7" fill="#000" text-anchor="start">9 Jun 04:00</text>
<text transform="translate(1404,940) scale(0.96,1)" font-size="9.7" fill="#000" text-anchor="start">10 Jun 12:00</text>
<polygon points="0.5,37.5 7.5,37.5 4,33" fill="#000"/>
<text transform="translate(12.5,37.8) scale(0.96,1)" font-size="9.7" fill="#000" xml:space="preserve">DJ30-,H4  34458.0 34459.0 34456.0 34456.0</text>
<defs>
<linearGradient id="rg" x1="0" y1="0" x2="0" y2="1"><stop offset="0" stop-color="#f25052"/><stop offset="0.45" stop-color="#d82426"/><stop offset="1" stop-color="#a80406"/></linearGradient>
<linearGradient id="bg" x1="0" y1="0" x2="0" y2="1"><stop offset="0" stop-color="#f4f4f4"/><stop offset="0.5" stop-color="#dedede"/><stop offset="1" stop-color="#cfcfcf"/></linearGradient>
</defs>
<g shape-rendering="crispEdges">
<rect x="0" y="46" width="220" height="57" fill="#fff"/>
<path d="M0 46 H51 V70 H109 V103 H0 Z" fill="url(#rg)"/>
<path d="M168 46 H219 V103 H111 V70 H168 Z" fill="url(#rg)"/>
<rect x="4" y="68" width="44" height="1" fill="#f8a0a0"/>
<rect x="171" y="68" width="44" height="1" fill="#f8a0a0"/>
<rect x="54.5" y="46.5" width="111" height="22" fill="#fff" stroke="#b4b4b4"/>
<rect x="56" y="48" width="19" height="19" fill="url(#bg)"/>
<rect x="145" y="48" width="19" height="19" fill="url(#bg)"/>
<rect x="75" y="48" width="1" height="19" fill="#b4b4b4"/><rect x="144" y="48" width="1" height="19" fill="#b4b4b4"/>
</g>
<polygon points="62,55 67,55 64.5,58" fill="#4a5fc0"/>
<polygon points="151,58 156,58 153.5,55" fill="#4a5fc0"/>
<text x="140" y="61" font-size="12" fill="#000" text-anchor="end">1.00</text>
<text x="25" y="61" font-size="11.5" fill="#fff" text-anchor="middle" textLength="26" lengthAdjust="spacingAndGlyphs">SELL</text>
<text x="192" y="61" font-size="11.5" fill="#fff" text-anchor="middle" textLength="23" lengthAdjust="spacingAndGlyphs">BUY</text>
<text x="16.5" y="97.5" font-size="12" font-weight="bold" fill="#fff" textLength="34" lengthAdjust="spacingAndGlyphs">34454</text>
<text x="54" y="97.5" font-size="33" fill="#fff" textLength="24" lengthAdjust="spacingAndGlyphs">.5</text>
<text x="126.5" y="97.5" font-size="12" font-weight="bold" fill="#fff" textLength="34" lengthAdjust="spacingAndGlyphs">34465</text>
<text x="165" y="97.5" font-size="33" fill="#fff" textLength="24" lengthAdjust="spacingAndGlyphs">.5</text>
<g>
<rect x="0" y="0" width="1731" height="22" fill="#f0f0f0"/>
<rect x="0" y="21" width="1731" height="1" fill="#e4e4e4"/><rect x="0" y="22" width="1731" height="1" fill="#b0b0b0"/><rect x="0" y="23" width="1731" height="1" fill="#8a8a8a"/><rect x="0" y="24" width="1731" height="2" fill="#fff"/>
<rect x="45" y="1" width="1" height="19" fill="#b8b8b8" shape-rendering="crispEdges"/>
<rect x="281" y="1" width="1" height="19" fill="#b8b8b8" shape-rendering="crispEdges"/>
<rect x="319" y="1" width="1" height="19" fill="#b8b8b8" shape-rendering="crispEdges"/>
<rect x="376" y="1" width="1" height="19" fill="#b8b8b8" shape-rendering="crispEdges"/>
<rect x="466" y="1" width="1" height="19" fill="#b8b8b8" shape-rendering="crispEdges"/>
<rect x="471" y="1" width="1" height="19" fill="#b8b8b8" shape-rendering="crispEdges"/>
<rect x="499" y="1" width="1" height="19" fill="#b8b8b8" shape-rendering="crispEdges"/>
<rect x="528" y="1" width="1" height="19" fill="#b8b8b8" shape-rendering="crispEdges"/>
<rect x="649" y="1" width="1" height="19" fill="#b8b8b8" shape-rendering="crispEdges"/>
<rect x="659" y="1" width="1" height="19" fill="#b8b8b8" shape-rendering="crispEdges"/>
<rect x="716" y="1" width="1" height="19" fill="#b8b8b8" shape-rendering="crispEdges"/>
<rect x="955" y="1" width="1" height="19" fill="#b8b8b8" shape-rendering="crispEdges"/>
<rect x="1105" y="1" width="1" height="19" fill="#b8b8b8" shape-rendering="crispEdges"/>
<rect x="1216" y="1" width="1" height="19" fill="#b8b8b8" shape-rendering="crispEdges"/>
<rect x="285" y="2" width="3" height="1" fill="#b0b0b0" shape-rendering="crispEdges"/>
<rect x="285" y="4" width="3" height="1" fill="#b0b0b0" shape-rendering="crispEdges"/>
<rect x="285" y="6" width="3" height="1" fill="#b0b0b0" shape-rendering="crispEdges"/>
<rect x="285" y="8" width="3" height="1" fill="#b0b0b0" shape-rendering="crispEdges"/>
<rect x="285" y="10" width="3" height="1" fill="#b0b0b0" shape-rendering="crispEdges"/>
<rect x="285" y="12" width="3" height="1" fill="#b0b0b0" shape-rendering="crispEdges"/>
<rect x="285" y="14" width="3" height="1" fill="#b0b0b0" shape-rendering="crispEdges"/>
<rect x="285" y="16" width="3" height="1" fill="#b0b0b0" shape-rendering="crispEdges"/>
<rect x="285" y="18" width="3" height="1" fill="#b0b0b0" shape-rendering="crispEdges"/>
<rect x="653" y="2" width="3" height="1" fill="#b0b0b0" shape-rendering="crispEdges"/>
<rect x="653" y="4" width="3" height="1" fill="#b0b0b0" shape-rendering="crispEdges"/>
<rect x="653" y="6" width="3" height="1" fill="#b0b0b0" shape-rendering="crispEdges"/>
<rect x="653" y="8" width="3" height="1" fill="#b0b0b0" shape-rendering="crispEdges"/>
<rect x="653" y="10" width="3" height="1" fill="#b0b0b0" shape-rendering="crispEdges"/>
<rect x="653" y="12" width="3" height="1" fill="#b0b0b0" shape-rendering="crispEdges"/>
<rect x="653" y="14" width="3" height="1" fill="#b0b0b0" shape-rendering="crispEdges"/>
<rect x="653" y="16" width="3" height="1" fill="#b0b0b0" shape-rendering="crispEdges"/>
<rect x="653" y="18" width="3" height="1" fill="#b0b0b0" shape-rendering="crispEdges"/>
<rect x="959" y="2" width="3" height="1" fill="#b0b0b0" shape-rendering="crispEdges"/>
<rect x="959" y="4" width="3" height="1" fill="#b0b0b0" shape-rendering="crispEdges"/>
<rect x="959" y="6" width="3" height="1" fill="#b0b0b0" shape-rendering="crispEdges"/>
<rect x="959" y="8" width="3" height="1" fill="#b0b0b0" shape-rendering="crispEdges"/>
<rect x="959" y="10" width="3" height="1" fill="#b0b0b0" shape-rendering="crispEdges"/>
<rect x="959" y="12" width="3" height="1" fill="#b0b0b0" shape-rendering="crispEdges"/>
<rect x="959" y="14" width="3" height="1" fill="#b0b0b0" shape-rendering="crispEdges"/>
<rect x="959" y="16" width="3" height="1" fill="#b0b0b0" shape-rendering="crispEdges"/>
<rect x="959" y="18" width="3" height="1" fill="#b0b0b0" shape-rendering="crispEdges"/>
<rect x="321" y="0" width="24" height="21" fill="#f8f8f8"/>
<rect x="660" y="0" width="24" height="21" fill="#f8f8f8"/>
<rect x="472" y="0" width="25" height="21" fill="#f8f8f8"/>
<rect x="500" y="0" width="25" height="21" fill="#f8f8f8"/>
<rect x="1106" y="0" width="23" height="21" fill="#f8f8f8"/>
<rect x="-3" y="3.5" width="10.5" height="13" fill="#fff" stroke="#4a7fd0"/><circle cx="1.5" cy="8.5" r="1" fill="none" stroke="#555" stroke-width=".6"/>
<rect x="20.5" y="2.5" width="11" height="12" fill="#f4f4f4" stroke="#a8a8a8"/><circle cx="28.5" cy="10" r="5" fill="#cfe0f4" fill-opacity=".8" stroke="#88a8d0" stroke-width="1.4"/><line x1="32.5" y1="14" x2="37" y2="18.5" stroke="#d4a030" stroke-width="2.2"/>
<path d="M55.5 2.5 H63 L67 6.5 V15.5 H55.5 Z" fill="#fff" stroke="#888"/><path d="M57.5 6.5h5M57.5 9.5h7M57.5 12.5h4" stroke="#999" stroke-width="1"/><path d="M65.5 9 v9 M61 13.5 h9" stroke="#1ea81e" stroke-width="3.2"/>
<text x="74" y="13.6" font-size="12" fill="#000" style="font-family:'Noto Sans CJK SC',sans-serif">新订单</text>
<path d="M122 12.300 L128 3.200 L138 10.300 L130.300 17.800 Z" fill="#e0b030" stroke="#a87010" stroke-width="1"/><path d="M124.500 11.500 L128.800 5.200 L135.300 10 L130 15 Z" fill="#f4d850"/><path d="M122.500 13.300 L130.300 18.300 L138 11" fill="none" stroke="#905c08" stroke-width="1.200"/>
<path d="M152.500 3 L156 2.500 H162.500 V11 H152.500 Z" fill="#2890f0" stroke="#1870d0" stroke-width=".8"/><path d="M156 2.500 V11" stroke="#a8d4ff" stroke-width="1"/><path d="M158 5.500h3.500M158 7.500h3.500" stroke="#e8f4ff" stroke-width="1"/><path d="M152 17.500 A3 3 0 0 1 152.500 12 A3.500 3.500 0 0 1 158.800 11.300 A3 3 0 0 1 163.500 12.600 A2.600 2.600 0 0 1 163.800 17.500 Z" fill="#e4ecf8" stroke="#5878b0" stroke-width=".9"/>
<circle cx="186" cy="10" r="7.500" fill="#e8f0f4" stroke="#a8c8e0" stroke-width="1"/><path d="M186 17.5 A7.500 7.500 0 0 0 193.500 10 L190.500 10 A4.500 4.500 0 0 1 186 14.500 Z" fill="#58b858"/><circle cx="186" cy="10" r="4.500" fill="none" stroke="#5890d0" stroke-width="1.300"/><circle cx="186" cy="10" r="1.600" fill="#2868c0"/><rect x="185.300" y="10" width="1.400" height="7.500" fill="#48a048"/>
<ellipse cx="213" cy="8" rx="8" ry="3.500" fill="#68a8e0" stroke="#4080c0" stroke-width=".8"/><ellipse cx="213" cy="5.5" rx="4" ry="3" fill="#88c0f0"/><path d="M206 10 L213 18 L220 10 Z" fill="#f0d040" stroke="#c8a020" stroke-width=".6"/><circle cx="217.500" cy="14" r="4" fill="#e02818"/><rect x="216" y="12.5" width="3" height="3" fill="#fff"/>
<text x="226" y="13.6" font-size="12" fill="#000" style="font-family:'Noto Sans CJK SC',sans-serif">自动交易</text>
<path d="M299.5 5 V17.700 M297 15.500 H309.5" fill="none" stroke="#585858" stroke-width="1.200"/><path d="M297.7 6.200 L299.5 3.600 L301.3 6.200 Z M308.7 13.700 L311.3 15.500 L308.7 17.300 Z" fill="#585858"/>
<path d="M305.500 5.200 V13.500 M305.500 6.600 H308 M303.200 12.500 H305.500" stroke="#18a018" stroke-width="1.300" fill="none"/>
<path d="M327.5 5 V17.700 M325 15.500 H337.5" fill="none" stroke="#585858" stroke-width="1.200"/><path d="M325.7 6.200 L327.5 3.600 L329.3 6.200 Z M336.7 13.700 L339.3 15.500 L336.7 17.300 Z" fill="#585858"/>
<path d="M333.500 2 V14" stroke="#10a010" stroke-width="1.200"/><rect x="331.500" y="4.500" width="4" height="7" fill="#60e860" stroke="#10a010" stroke-width="1"/>
<path d="M355.5 5 V17.700 M353 15.500 H365.5" fill="none" stroke="#585858" stroke-width="1.200"/><path d="M353.7 6.200 L355.5 3.600 L357.3 6.200 Z M364.7 13.700 L367.3 15.500 L364.7 17.300 Z" fill="#585858"/>
<path d="M354.200 12.800 Q357.500 7.500 360.400 7 Q362.500 7.200 366 11" stroke="#18a018" stroke-width="1.300" fill="none"/>
<line x1="394.5" y1="13" x2="400" y2="18" stroke="#d8a828" stroke-width="2.600"/><circle cx="391" cy="8.500" r="5.500" fill="#d8e8f8" stroke="#4888d8" stroke-width="1.600"/>
<path d="M388 8.500 H394" stroke="#3878c8" stroke-width="1.600"/>
<path d="M391 5.500 V11.500" stroke="#3878c8" stroke-width="1.600"/>
<line x1="422.5" y1="13" x2="428" y2="18" stroke="#d8a828" stroke-width="2.600"/><circle cx="419" cy="8.500" r="5.500" fill="#d8e8f8" stroke="#4888d8" stroke-width="1.600"/>
<path d="M416 8.500 H422" stroke="#3878c8" stroke-width="1.600"/>
<rect x="441" y="2" width="7.500" height="7.500" fill="#58a838"/><rect x="442.5" y="5.5" width="4.500" height="2.500" fill="#eef4ff"/>
<rect x="449.5" y="2" width="7.500" height="7.500" fill="#3868c8"/><rect x="451.0" y="5.5" width="4.500" height="2.500" fill="#eef4ff"/>
<rect x="441" y="10.5" width="7.500" height="7.500" fill="#3868c8"/><rect x="442.5" y="14.0" width="4.500" height="2.500" fill="#eef4ff"/>
<rect x="449.5" y="10.5" width="7.500" height="7.500" fill="#58a838"/><rect x="451.0" y="14.0" width="4.500" height="2.500" fill="#eef4ff"/>
<path d="M479.5 5 V17.700 M477 15.500 H489.5" fill="none" stroke="#585858" stroke-width="1.200"/><path d="M477.7 6.200 L479.5 3.600 L481.3 6.200 Z M488.7 13.700 L491.3 15.500 L488.7 17.300 Z" fill="#585858"/>
<path d="M484.500 6.400 V12.800 L488 9.600 Z" fill="#58e078" stroke="#18a018" stroke-width="1"/>
<path d="M507.5 5 V17.700 M505 15.500 H517.5" fill="none" stroke="#585858" stroke-width="1.200"/><path d="M505.7 6.200 L507.5 3.600 L509.3 6.200 Z M516.7 13.700 L519.3 15.500 L516.7 17.300 Z" fill="#585858"/>
<path d="M513.500 3 V15" stroke="#2868b8" stroke-width="1.200"/><path d="M519 9.500 H515 M517 7.500 L514.500 9.500 L517 11.500" stroke="#d03818" stroke-width="1.200" fill="none"/>
<path d="M538.500 4.500 H545 V14.500 H538.500 Z" fill="#f8f8f8" stroke="#888"/><path d="M540.500 2.500 H546 L549.500 6 V13.500 H540.500 Z" fill="#fff" stroke="#888"/><path d="M548.500 8.500 v10 M543.500 13.500 h10" stroke="#1ea81e" stroke-width="3.400"/>
<polygon points="560,9 565,9 562.5,12" fill="#000"/>
<circle cx="584" cy="10" r="8" fill="#1868d0"/><circle cx="584" cy="10" r="6.300" fill="#3888e8"/><circle cx="584" cy="10" r="5" fill="#f4f8ff"/><path d="M584 6 V10 H587" stroke="#444" stroke-width="1" fill="none"/>
<polygon points="599,9 604,9 601.5,12" fill="#000"/>
<rect x="615.500" y="3.500" width="15" height="13" fill="#fff" stroke="#4888d8"/><rect x="615.500" y="3.500" width="15" height="2.500" fill="#4888d8"/><path d="M617 9.500 l3 -1 l3 1 l3 -1.500 l3 -0.500" stroke="#c83028" stroke-width="1.200" fill="none"/><path d="M617 14 l3 -1 l2.500 1 l3 -2 l3.500 1.500" stroke="#38a838" stroke-width="1.200" fill="none"/><rect x="616" y="11" width="14" height=".6" fill="#999"/>
<polygon points="638,9 643,9 640.5,12" fill="#000"/>
<path d="M667.500 3.500 V15 L670.300 12.300 L672.300 17 L674 16.200 L672 11.700 L675.800 11.700 Z" fill="#383838"/>
<path d="M699.500 3.500 V17 M692 10.500 H707" stroke="#505050" stroke-width="1" shape-rendering="crispEdges"/>
<rect x="733" y="4" width="1" height="13" fill="#505050"/><rect x="756" y="10" width="12" height="1" fill="#505050"/><line x1="784" y1="16.500" x2="796" y2="4.500" stroke="#505050" stroke-width="1.100"/>
<path d="M810 13 L822 3.500 M812 17 L825 6.500 M814 8 V15 M818 5 V12 M822 3 V9" stroke="#606060" stroke-width="1" fill="none"/><text x="821" y="19" font-size="6.500" font-weight="bold" fill="#404040">E</text>
<line x1="838" y1="3.5" x2="852" y2="3.5" stroke="#606060" stroke-width="1" stroke-dasharray="1 1"/>
<line x1="838" y1="6.5" x2="852" y2="6.5" stroke="#606060" stroke-width="1" stroke-dasharray="1 1"/>
<line x1="838" y1="10.5" x2="852" y2="10.5" stroke="#606060" stroke-width="1" stroke-dasharray="1 1"/>
<line x1="838" y1="14.5" x2="852" y2="14.5" stroke="#606060" stroke-width="1" stroke-dasharray="1 1"/>
<text x="849" y="19.500" font-size="6.500" font-weight="bold" fill="#404040">F</text>
<text x="873.5" y="15.500" font-size="12.500" font-weight="bold" fill="#707070" text-anchor="middle">A</text>
<rect x="895.500" y="4.500" width="12" height="12" fill="none" stroke="#707070" stroke-dasharray="1 1"/><text x="901.500" y="15" font-size="11" font-weight="bold" fill="#707070" text-anchor="middle">T</text>
<path d="M923 7.500 L926.500 4 L930 7.500 L926.500 11 Z M930 13.500 L933.500 10 L937 13.500 L933.500 17 Z" fill="#505050"/><path d="M926 12 l2 2 l3 -4" stroke="#505050" stroke-width="1.200" fill="none"/>
<polygon points="944,9 949,9 946.5,12" fill="#000"/>
<text x="976.5" y="14" font-size="9.300" fill="#505050" text-anchor="middle">M1</text>
<text x="1005" y="14" font-size="9.300" fill="#505050" text-anchor="middle">M5</text>
<text x="1033" y="14" font-size="9.300" fill="#505050" text-anchor="middle">M15</text>
<text x="1061.5" y="14" font-size="9.300" fill="#505050" text-anchor="middle">M30</text>
<text x="1089.5" y="14" font-size="9.300" fill="#505050" text-anchor="middle">H1</text>
<text x="1117" y="14" font-size="9.300" fill="#505050" text-anchor="middle">H4</text>
<text x="1145.5" y="14" font-size="9.300" fill="#505050" text-anchor="middle">D1</text>
<text x="1174.5" y="14" font-size="9.300" fill="#505050" text-anchor="middle">W1</text>
<text x="1201" y="14" font-size="9.300" fill="#505050" text-anchor="middle">MN</text>
<circle cx="1687" cy="7.500" r="4" fill="#eef4ff" stroke="#2858c8" stroke-width="1.600"/><line x1="1684" y1="10.500" x2="1679.500" y2="15" stroke="#2858c8" stroke-width="2.200" stroke-linecap="round"/>
<ellipse cx="1709" cy="13" rx="5.500" ry="4.500" fill="#f4f4f4" stroke="#b8b8b8"/><path d="M1706 16.500 L1705 19.500 L1709 17.300 Z" fill="#f4f4f4" stroke="#b8b8b8" stroke-width=".8"/>
<circle cx="1716.500" cy="8" r="8" fill="#e02818"/><text x="1716.500" y="12" font-size="11.500" fill="#fff" text-anchor="middle">1</text>
</g>
</svg>
</body></html>
